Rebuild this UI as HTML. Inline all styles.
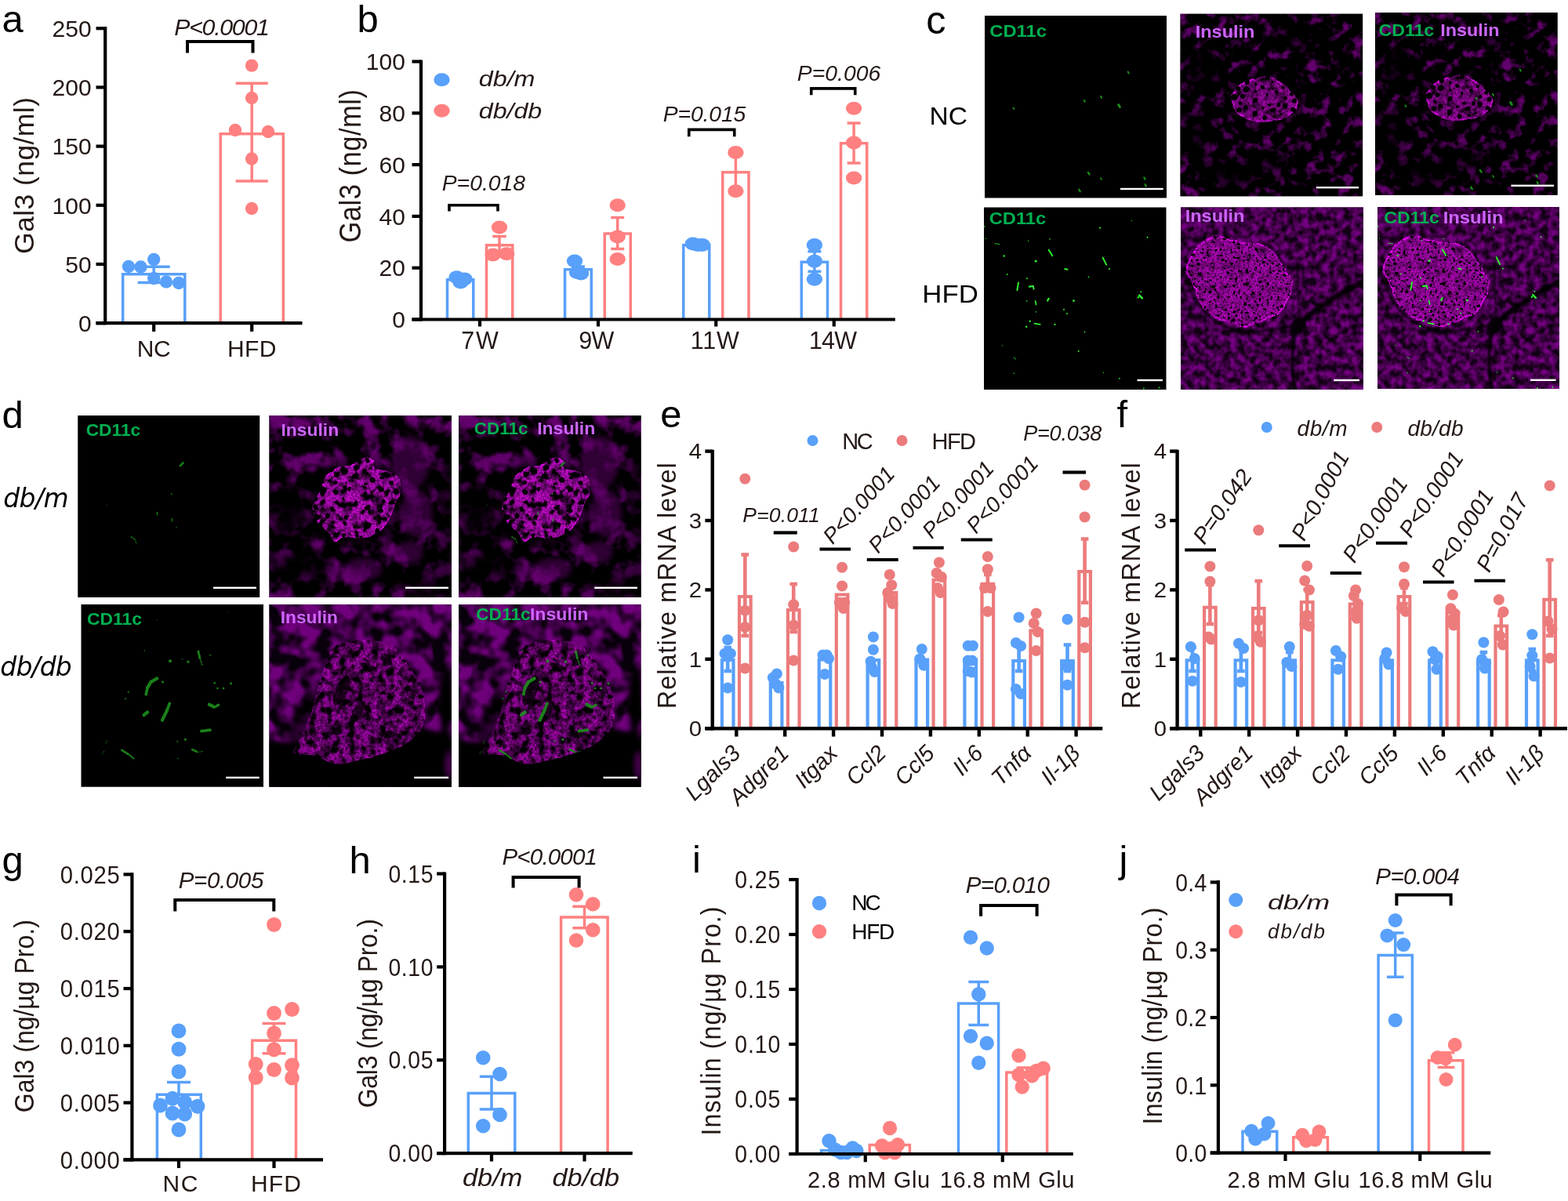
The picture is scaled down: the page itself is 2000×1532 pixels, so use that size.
<!DOCTYPE html>
<html lang="en"><head><meta charset="utf-8"><title>Figure</title>
<style>
html,body{margin:0;padding:0;background:#fff;}
body{width:2000px;height:1532px;overflow:hidden;}
svg{display:block;}
text{white-space:pre;}
</style></head><body>
<svg xmlns="http://www.w3.org/2000/svg" width="2000" height="1532" viewBox="0 0 2000 1532">
<defs><filter id="tc2" x="0" y="0" width="1" height="1" color-interpolation-filters="sRGB"><feTurbulence type="fractalNoise" baseFrequency="0.068" numOctaves="3" seed="11" result="n"/><feColorMatrix in="n" type="matrix" values="4 0 0 0 -2.05  4 0 0 0 -2.05  4 0 0 0 -2.05  0 0 0 0 1" result="i"/><feTurbulence type="fractalNoise" baseFrequency="0.8" numOctaves="1" seed="18" result="g"/><feColorMatrix in="g" type="matrix" values="1 0 0 0 0.5  1 0 0 0 0.5  1 0 0 0 0.5  0 0 0 0 1" result="g2"/><feComposite in="i" in2="g2" operator="arithmetic" k1="1" k2="0" k3="0" k4="0" result="i2"/><feColorMatrix in="i2" type="matrix" values="0.4 0 0 0 0  0 0 0 0 0  0 0 0.44 0 0  0 0 0 0 1"/></filter><filter id="tc5" x="0" y="0" width="1" height="1" color-interpolation-filters="sRGB"><feTurbulence type="fractalNoise" baseFrequency="0.11" numOctaves="2" seed="23" result="n"/><feColorMatrix in="n" type="matrix" values="2.3 0 0 0 -0.68  2.3 0 0 0 -0.68  2.3 0 0 0 -0.68  0 0 0 0 1" result="i"/><feTurbulence type="fractalNoise" baseFrequency="0.8" numOctaves="1" seed="30" result="g"/><feColorMatrix in="g" type="matrix" values="0.8 0 0 0 0.6  0.8 0 0 0 0.6  0.8 0 0 0 0.6  0 0 0 0 1" result="g2"/><feComposite in="i" in2="g2" operator="arithmetic" k1="1" k2="0" k3="0" k4="0" result="i2"/><feColorMatrix in="i2" type="matrix" values="0.4 0 0 0 0.07  0 0 0 0 0  0 0 0.44 0 0.08  0 0 0 0 1"/></filter><filter id="td2" x="0" y="0" width="1" height="1" color-interpolation-filters="sRGB"><feTurbulence type="fractalNoise" baseFrequency="0.042" numOctaves="3" seed="5" result="n"/><feColorMatrix in="n" type="matrix" values="3.6 0 0 0 -1.6  3.6 0 0 0 -1.6  3.6 0 0 0 -1.6  0 0 0 0 1" result="i"/><feTurbulence type="fractalNoise" baseFrequency="0.8" numOctaves="1" seed="12" result="g"/><feColorMatrix in="g" type="matrix" values="1 0 0 0 0.5  1 0 0 0 0.5  1 0 0 0 0.5  0 0 0 0 1" result="g2"/><feComposite in="i" in2="g2" operator="arithmetic" k1="1" k2="0" k3="0" k4="0" result="i2"/><feColorMatrix in="i2" type="matrix" values="0.4 0 0 0 0  0 0 0 0 0  0 0 0.44 0 0  0 0 0 0 1"/></filter><filter id="td5" x="0" y="0" width="1" height="1" color-interpolation-filters="sRGB"><feTurbulence type="fractalNoise" baseFrequency="0.048" numOctaves="2" seed="41" result="n"/><feColorMatrix in="n" type="matrix" values="3.4 0 0 0 -1.2  3.4 0 0 0 -1.2  3.4 0 0 0 -1.2  0 0 0 0 1" result="i"/><feTurbulence type="fractalNoise" baseFrequency="0.8" numOctaves="1" seed="48" result="g"/><feColorMatrix in="g" type="matrix" values="0.8 0 0 0 0.6  0.8 0 0 0 0.6  0.8 0 0 0 0.6  0 0 0 0 1" result="g2"/><feComposite in="i" in2="g2" operator="arithmetic" k1="1" k2="0" k3="0" k4="0" result="i2"/><feColorMatrix in="i2" type="matrix" values="0.42 0 0 0 0.03  0 0 0 0 0  0 0 0.46 0 0.04  0 0 0 0 1"/></filter><filter id="ic2" x="-0.1" y="-0.1" width="1.2" height="1.2" color-interpolation-filters="sRGB"><feTurbulence type="fractalNoise" baseFrequency="0.09" numOctaves="2" seed="6" result="d"/><feDisplacementMap in="SourceGraphic" in2="d" scale="3" xChannelSelector="R" yChannelSelector="G" result="s"/><feTurbulence type="fractalNoise" baseFrequency="0.35" numOctaves="3" seed="3" result="n"/><feColorMatrix in="n" type="matrix" values="1.2 0 0 0 0.2  0.12 0 0 0 -0.03  1.272 0 0 0 0.212  0 0 0 0 1" result="m"/><feTurbulence type="fractalNoise" baseFrequency="0.08" numOctaves="2" seed="14" result="l"/><feColorMatrix in="l" type="matrix" values="0 1.5 0 0 0.175  0 1.5 0 0 0.175  0 1.5 0 0 0.175  0 0 0 0 1" result="l2"/><feComposite in="m" in2="l2" operator="arithmetic" k1="1" k2="0" k3="0" k4="0" result="m2"/><feTurbulence type="fractalNoise" baseFrequency="0.1" numOctaves="2" seed="26" result="q"/><feColorMatrix in="q" type="matrix" values="3 0 0 0 -0.5  3 0 0 0 -0.5  3 0 0 0 -0.5  0 0 0 0 1" result="q2"/><feComposite in="m2" in2="q2" operator="arithmetic" k1="1" k2="0" k3="0" k4="0" result="m3"/><feComposite in="s" in2="m3" operator="arithmetic" k1="1" k2="0" k3="0" k4="0" result="t"/><feComposite in="t" in2="s" operator="in"/></filter><filter id="ic5" x="-0.1" y="-0.1" width="1.2" height="1.2" color-interpolation-filters="sRGB"><feTurbulence type="fractalNoise" baseFrequency="0.09" numOctaves="2" seed="12" result="d"/><feDisplacementMap in="SourceGraphic" in2="d" scale="4" xChannelSelector="R" yChannelSelector="G" result="s"/><feTurbulence type="fractalNoise" baseFrequency="0.5" numOctaves="3" seed="9" result="n"/><feColorMatrix in="n" type="matrix" values="1.3 0 0 0 0.175  0.1 0 0 0 -0.025  1.378 0 0 0 0.186  0 0 0 0 1" result="m"/><feTurbulence type="fractalNoise" baseFrequency="0.1" numOctaves="2" seed="20" result="l"/><feColorMatrix in="l" type="matrix" values="0 1.1 0 0 0.375  0 1.1 0 0 0.375  0 1.1 0 0 0.375  0 0 0 0 1" result="l2"/><feComposite in="m" in2="l2" operator="arithmetic" k1="1" k2="0" k3="0" k4="0" result="m2"/><feTurbulence type="fractalNoise" baseFrequency="0.3" numOctaves="1" seed="32" result="q"/><feColorMatrix in="q" type="matrix" values="7 0 0 0 -2  7 0 0 0 -2  7 0 0 0 -2  0 0 0 0 1" result="q2"/><feComposite in="m2" in2="q2" operator="arithmetic" k1="1" k2="0" k3="0" k4="0" result="m3"/><feComposite in="s" in2="m3" operator="arithmetic" k1="1" k2="0" k3="0" k4="0" result="t"/><feComposite in="t" in2="s" operator="in"/></filter><filter id="id2" x="-0.1" y="-0.1" width="1.2" height="1.2" color-interpolation-filters="sRGB"><feTurbulence type="fractalNoise" baseFrequency="0.09" numOctaves="2" seed="16" result="d"/><feDisplacementMap in="SourceGraphic" in2="d" scale="4" xChannelSelector="R" yChannelSelector="G" result="s"/><feTurbulence type="fractalNoise" baseFrequency="0.4" numOctaves="3" seed="13" result="n"/><feColorMatrix in="n" type="matrix" values="1.5 0 0 0 0.125  0.16 0 0 0 -0.04  1.59 0 0 0 0.133  0 0 0 0 1" result="m"/><feTurbulence type="fractalNoise" baseFrequency="0.07" numOctaves="2" seed="24" result="l"/><feColorMatrix in="l" type="matrix" values="0 1.7 0 0 0.075  0 1.7 0 0 0.075  0 1.7 0 0 0.075  0 0 0 0 1" result="l2"/><feComposite in="m" in2="l2" operator="arithmetic" k1="1" k2="0" k3="0" k4="0" result="m2"/><feTurbulence type="fractalNoise" baseFrequency="0.11" numOctaves="2" seed="36" result="q"/><feColorMatrix in="q" type="matrix" values="4.5 0 0 0 -1.35  4.5 0 0 0 -1.35  4.5 0 0 0 -1.35  0 0 0 0 1" result="q2"/><feComposite in="m2" in2="q2" operator="arithmetic" k1="1" k2="0" k3="0" k4="0" result="m3"/><feComposite in="s" in2="m3" operator="arithmetic" k1="1" k2="0" k3="0" k4="0" result="t"/><feComposite in="t" in2="s" operator="in"/></filter><filter id="id5" x="-0.1" y="-0.1" width="1.2" height="1.2" color-interpolation-filters="sRGB"><feTurbulence type="fractalNoise" baseFrequency="0.09" numOctaves="2" seed="20" result="d"/><feDisplacementMap in="SourceGraphic" in2="d" scale="3" xChannelSelector="R" yChannelSelector="G" result="s"/><feTurbulence type="fractalNoise" baseFrequency="0.35" numOctaves="3" seed="17" result="n"/><feColorMatrix in="n" type="matrix" values="1.2 0 0 0 0.15  0.08 0 0 0 -0.02  1.272 0 0 0 0.159  0 0 0 0 1" result="m"/><feTurbulence type="fractalNoise" baseFrequency="0.06" numOctaves="2" seed="28" result="l"/><feColorMatrix in="l" type="matrix" values="0 1.5 0 0 0.175  0 1.5 0 0 0.175  0 1.5 0 0 0.175  0 0 0 0 1" result="l2"/><feComposite in="m" in2="l2" operator="arithmetic" k1="1" k2="0" k3="0" k4="0" result="m2"/><feTurbulence type="fractalNoise" baseFrequency="0.1" numOctaves="2" seed="40" result="q"/><feColorMatrix in="q" type="matrix" values="3.5 0 0 0 -1  3.5 0 0 0 -1  3.5 0 0 0 -1  0 0 0 0 1" result="q2"/><feComposite in="m2" in2="q2" operator="arithmetic" k1="1" k2="0" k3="0" k4="0" result="m3"/><feComposite in="s" in2="m3" operator="arithmetic" k1="1" k2="0" k3="0" k4="0" result="t"/><feComposite in="t" in2="s" operator="in"/></filter><filter id="bl2" x="-0.3" y="-0.3" width="1.6" height="1.6"><feGaussianBlur stdDeviation="1.8"/></filter><filter id="bl3" x="-0.3" y="-0.3" width="1.6" height="1.6"><feGaussianBlur stdDeviation="3"/></filter><filter id="bl6" x="-0.3" y="-0.3" width="1.6" height="1.6"><feGaussianBlur stdDeviation="6"/></filter><filter id="bl10" x="-0.5" y="-0.5" width="2" height="2"><feGaussianBlur stdDeviation="10"/></filter><filter id="bl1" x="-0.3" y="-0.3" width="1.6" height="1.6"><feGaussianBlur stdDeviation="0.6"/></filter><g id="ins_c2"><rect width="234" height="234" filter="url(#tc2)"/><g filter="url(#bl10)" fill="#000" opacity="0.75"><ellipse cx="28" cy="70" rx="26" ry="28"/><ellipse cx="22" cy="150" rx="22" ry="28"/><ellipse cx="60" cy="205" rx="38" ry="18"/><ellipse cx="150" cy="28" rx="40" ry="12"/><ellipse cx="120" cy="190" rx="22" ry="12"/></g><g filter="url(#bl6)" fill="#000" opacity="0.55"><ellipse cx="108" cy="110" rx="50" ry="36"/></g><g filter="url(#ic2)"><path d="M66,106 C66.5,100.8 70.5,96.5 74,93 C77.5,89.5 82.7,86.8 87,85 C91.3,83.2 95.8,82.8 100,82 C104.2,81.2 107.3,79 112,80 C116.7,81 122.7,84.2 128,88 C133.3,91.8 140.5,98.8 144,103 C147.5,107.2 149.2,109.2 149,113 C148.8,116.8 146.5,122.5 143,126 C139.5,129.5 134.5,132.2 128,134 C121.5,135.8 110.8,137 104,137 C97.2,137 92.5,136.2 87,134 C81.5,131.8 74.5,128.7 71,124 C67.5,119.3 65.5,111.2 66,106Z" fill="#a0a0a0" stroke="#ffffff" stroke-width="2.2"/><g fill="#000"><circle cx="117.7" cy="122.3" r="3.3"/><circle cx="144.2" cy="122.2" r="3.5"/><circle cx="68.4" cy="106.5" r="3.5"/><circle cx="119.9" cy="131.4" r="2"/><circle cx="104.9" cy="94.1" r="2.8"/><circle cx="84" cy="95.9" r="3.5"/><circle cx="117.2" cy="87.2" r="1.8"/><circle cx="145.8" cy="110.7" r="3"/><circle cx="96" cy="89.5" r="2"/><circle cx="122.3" cy="99.3" r="2.3"/><circle cx="133.9" cy="107.4" r="2.4"/><circle cx="105.9" cy="120.2" r="1.9"/><circle cx="128.2" cy="128.2" r="1.8"/><circle cx="95.4" cy="109.9" r="3.2"/><circle cx="75" cy="122.7" r="3.3"/><circle cx="110.3" cy="103.1" r="2.2"/><circle cx="73.4" cy="95.5" r="3.2"/><circle cx="133.8" cy="116.9" r="3.3"/><circle cx="95.1" cy="128" r="3.4"/><circle cx="79.3" cy="105.1" r="3"/><circle cx="84.2" cy="119.1" r="2.9"/><circle cx="113" cy="115.1" r="2"/><circle cx="130.9" cy="94" r="2.3"/><circle cx="111.3" cy="80.8" r="3.2"/><circle cx="124.8" cy="116" r="2.7"/><circle cx="141.7" cy="102" r="2.5"/><circle cx="108" cy="131.9" r="2.8"/><circle cx="76.4" cy="113.9" r="2.2"/><circle cx="84.5" cy="86.6" r="3.6"/><circle cx="96.1" cy="98.8" r="1.8"/></g></g></g><g id="ins_c5"><rect width="234" height="234" filter="url(#tc5)"/><g filter="url(#bl2)" opacity="0.9"><path d="M236,93 C205,108 175,128 150,148" fill="none" stroke="#000" stroke-width="7" stroke-linecap="round"/><path d="M150,148 C142,165 140,195 146,236" fill="none" stroke="#000" stroke-width="4.5" stroke-linecap="round"/><ellipse cx="149" cy="152" rx="9" ry="13" transform="rotate(30 149 152)" fill="#000"/><path d="M150,148 C153,120 147,95 150,70" fill="none" stroke="#000" stroke-width="3" opacity="0.7"/><path d="M4,75 C10,115 32,150 78,158 C112,160 135,153 150,148" fill="none" stroke="#000" stroke-width="3.5" opacity="0.85"/><path d="M236,150 C215,150 200,160 185,175" fill="none" stroke="#000" stroke-width="3" opacity="0.6"/></g><g filter="url(#ic5)"><path d="M7.8,79.6 C7.5,73.6 11.1,67.4 14.4,61.7 C17.7,56 22.5,49.5 27.4,45.4 C32.3,41.3 37.7,37.8 43.7,37.2 C49.7,36.7 57,40.7 63.3,42.1 C69.5,43.5 75,44.6 81.2,45.4 C87.5,46.2 94.5,45.1 100.8,47 C107.1,48.9 114.2,52.4 118.8,56.8 C123.4,61.1 125,67.7 128.5,73.1 C132,78.5 137.8,84 140,89.4 C142.2,94.8 142.7,100.3 141.6,105.7 C140.5,111.1 136.1,117.1 133.4,122 C130.7,126.9 129.1,131.7 125.3,135 C121.5,138.3 115.5,139.4 110.6,141.6 C105.7,143.8 100.8,146.5 95.9,148.1 C91,149.7 86.6,151.7 81.2,151.4 C75.8,151.1 69,148.1 63.3,146.5 C57.6,144.9 51.9,144 47,141.6 C42.1,139.2 38,136.2 33.9,131.8 C29.8,127.5 25.5,121.2 22.5,115.5 C19.5,109.8 18.4,103.6 16,97.6 C13.6,91.6 8.1,85.6 7.8,79.6Z" fill="#b4b4b4" stroke="#ffffff" stroke-width="2.2"/><g fill="#000"><circle cx="51.1" cy="54.4" r="1.8"/><circle cx="17.5" cy="98.4" r="1.4"/><circle cx="12.8" cy="86.7" r="1.1"/><circle cx="37.7" cy="108.9" r="2.1"/><circle cx="85" cy="82.5" r="2.1"/><circle cx="23.6" cy="72.4" r="2"/><circle cx="15.8" cy="60.7" r="1.8"/><circle cx="65" cy="73.1" r="1.7"/><circle cx="114.1" cy="117" r="1.3"/><circle cx="84.7" cy="97.2" r="2"/><circle cx="105.4" cy="70.1" r="2.1"/><circle cx="23.6" cy="84.9" r="1.9"/><circle cx="28.1" cy="93" r="1.1"/><circle cx="97.2" cy="124.5" r="1.7"/><circle cx="124.9" cy="73" r="1.8"/><circle cx="68.8" cy="133.1" r="2.1"/><circle cx="71.2" cy="113" r="1.1"/><circle cx="101.7" cy="111.1" r="2.2"/><circle cx="59.4" cy="113.6" r="1.1"/><circle cx="69.6" cy="56.4" r="1.2"/><circle cx="60.1" cy="136.7" r="1.1"/><circle cx="67.9" cy="99.9" r="2"/><circle cx="117.4" cy="135.9" r="1.4"/><circle cx="28" cy="57.3" r="1.3"/><circle cx="39" cy="92.6" r="1.7"/><circle cx="43" cy="37.7" r="1.5"/><circle cx="57.2" cy="101.9" r="2.1"/><circle cx="100.2" cy="96.1" r="1.7"/><circle cx="128.2" cy="126.3" r="2"/><circle cx="114.6" cy="82" r="1.5"/><circle cx="21.7" cy="109.6" r="1.1"/><circle cx="124.8" cy="107.3" r="1.2"/><circle cx="41.6" cy="76.9" r="1.4"/><circle cx="72.5" cy="47" r="1.2"/><circle cx="53.6" cy="67.4" r="2"/><circle cx="135" cy="97.5" r="1.2"/><circle cx="78.5" cy="148.9" r="2"/><circle cx="111.1" cy="98" r="1.9"/><circle cx="55.4" cy="40.5" r="1.1"/><circle cx="67.6" cy="144.2" r="2.1"/><circle cx="37.3" cy="63.1" r="1.3"/><circle cx="96.2" cy="141.1" r="1.9"/><circle cx="31.7" cy="127.3" r="1.4"/><circle cx="60.8" cy="83" r="2.1"/><circle cx="104.8" cy="56.6" r="1.2"/><circle cx="95.7" cy="77.2" r="1.7"/><circle cx="137.7" cy="111.4" r="1.6"/><circle cx="132.7" cy="86.7" r="2"/><circle cx="118.3" cy="61.3" r="1.3"/><circle cx="86.3" cy="66.8" r="1.5"/><circle cx="85.9" cy="140.5" r="1.5"/><circle cx="44.9" cy="125.4" r="1.6"/><circle cx="83" cy="124" r="2.1"/><circle cx="42.5" cy="101.1" r="2.1"/><circle cx="96.1" cy="53.5" r="2"/><circle cx="123.2" cy="89" r="1.4"/><circle cx="106" cy="130" r="1.2"/><circle cx="91.8" cy="108.7" r="1.8"/><circle cx="73.9" cy="80.9" r="1.6"/><circle cx="70" cy="90.5" r="1.2"/></g></g></g><g id="ins_d2"><rect width="234" height="234" filter="url(#td2)"/><g filter="url(#bl10)" fill="#000" opacity="0.8"><ellipse cx="229" cy="130" rx="9" ry="110"/><ellipse cx="22" cy="120" rx="22" ry="36"/><ellipse cx="40" cy="192" rx="38" ry="18"/><ellipse cx="205" cy="218" rx="36" ry="14"/></g><g filter="url(#bl6)" fill="#000" opacity="0.5"><ellipse cx="111" cy="110" rx="62" ry="58"/></g><g filter="url(#bl3)" fill="#56005e" opacity="0.55"><ellipse cx="180" cy="60" rx="24" ry="34"/><ellipse cx="188" cy="125" rx="20" ry="30"/><ellipse cx="120" cy="196" rx="24" ry="14"/><ellipse cx="178" cy="175" rx="18" ry="14"/></g><g filter="url(#id2)"><path d="M56,115 C57.4,109.8 63,101.4 65.7,95.4 C68.4,89.4 68.5,84 72.3,79.1 C76.1,74.2 83.2,68.5 88.6,66.1 C94,63.6 99.5,66.3 104.9,64.4 C110.3,62.5 116.9,56 121.2,54.6 C125.5,53.2 128.8,54.1 131,56.3 C133.2,58.5 130.5,65 134.3,67.7 C138.1,70.4 148.6,70.1 153.8,72.6 C159,75 163.1,78.3 165.3,82.4 C167.5,86.5 167.7,92.2 166.9,97.1 C166.1,102 162.6,106.3 160.4,111.7 C158.2,117.1 156.8,124 153.8,129.7 C150.8,135.4 147,141.9 142.4,146 C137.8,150.1 131,152.6 126.1,154.2 C121.2,155.8 118.3,155.8 113.1,155.8 C107.9,155.8 100,153.4 95.1,154.2 C90.2,155 87,161.8 83.7,160.7 C80.4,159.6 78.8,151.4 75.5,147.6 C72.2,143.8 67.1,141.3 64.1,137.8 C61.1,134.3 59,130.2 57.6,126.4 C56.2,122.6 54.6,120.2 56,115Z" fill="#c0c0c0" stroke="#ffffff" stroke-width="1.5"/><g fill="#000"><circle cx="74.3" cy="127.8" r="3"/><circle cx="109.1" cy="77.5" r="3.3"/><circle cx="145.6" cy="109" r="2.7"/><circle cx="97.1" cy="116.7" r="1.9"/><circle cx="144" cy="79.2" r="2.2"/><circle cx="137.9" cy="147.4" r="2.9"/><circle cx="111.2" cy="66.9" r="3.6"/><circle cx="96.9" cy="71" r="3.3"/><circle cx="94" cy="106" r="2.1"/><circle cx="82" cy="137.4" r="2.1"/><circle cx="139.7" cy="135.5" r="2.9"/><circle cx="108.8" cy="142.3" r="2.1"/><circle cx="101.4" cy="93.3" r="2.6"/><circle cx="110.5" cy="113" r="3.2"/><circle cx="80.6" cy="119.2" r="2.8"/><circle cx="125" cy="73.8" r="2.1"/><circle cx="94.6" cy="153" r="2.4"/><circle cx="122.2" cy="87.1" r="2"/><circle cx="142.2" cy="94.4" r="3"/><circle cx="162.3" cy="97.8" r="3.6"/><circle cx="84.6" cy="85.4" r="2.5"/><circle cx="122.7" cy="99.8" r="2.9"/><circle cx="58.6" cy="117.6" r="3"/><circle cx="84.5" cy="97.6" r="3.6"/><circle cx="97.9" cy="129.9" r="2.8"/><circle cx="61.1" cy="130" r="3.4"/><circle cx="155.9" cy="85.9" r="2.7"/><circle cx="116.9" cy="155.2" r="1.9"/><circle cx="124.9" cy="56.7" r="3"/><circle cx="142.4" cy="121.1" r="3.2"/><circle cx="83.2" cy="151.9" r="2.5"/><circle cx="124.2" cy="142.1" r="3.6"/><circle cx="131.6" cy="82.3" r="3.6"/><circle cx="86.2" cy="74.6" r="3.6"/><circle cx="60.1" cy="107.1" r="3"/><circle cx="156.1" cy="111.2" r="3.5"/><circle cx="65.2" cy="97.6" r="2.1"/><circle cx="125.7" cy="118.1" r="3.1"/></g></g></g><g id="ins_d5"><rect width="234" height="234" filter="url(#td5)"/><g filter="url(#bl3)" fill="#000" opacity="1"><path d="M-10,172 L45,178 L90,150 L190,150 L206,162 L240,160 L240,245 L-10,245Z"/><ellipse cx="226" cy="125" rx="9" ry="45"/></g><g filter="url(#bl6)" fill="#000" opacity="0.6"><ellipse cx="42" cy="150" rx="12" ry="45" transform="rotate(20 42 150)"/></g><g filter="url(#id5)"><path d="M83.7,53 C90,50 103,46.8 114.7,46.5 C126.4,46.2 143.7,46.5 153.7,51.4 C163.7,56.3 168.3,66.8 174.9,75.8 C181.5,84.8 189.2,93.7 193,105.4 C196.8,117.1 199.7,135.2 198,146 C196.3,156.8 190.4,163.7 183,170.5 C175.6,177.3 165.4,182.3 153.7,187 C142,191.7 124.4,195.7 113,198.4 C101.6,201.1 94.9,204.4 85.4,203.3 C75.9,202.2 64.8,194.1 55.8,191.9 C46.8,189.7 33.3,195.2 31.4,190.3 C29.5,185.4 40.3,172.5 44.4,162.4 C48.5,152.3 51.9,142.1 55.8,129.8 C59.6,117.6 63.9,99.8 67.5,88.9 C71.1,78 74.5,70.4 77.2,64.4 C79.9,58.4 77.5,56 83.7,53Z" fill="#b0b0b0" stroke="#e8e8e8" stroke-width="1.0"/><g fill="#2c2c2c"><ellipse cx="92" cy="110" rx="8" ry="20" transform="rotate(25 92 110)"/><ellipse cx="112" cy="138" rx="6" ry="17" transform="rotate(30 112 138)"/><ellipse cx="125" cy="80" rx="10" ry="5" transform="rotate(20 125 80)"/><ellipse cx="152" cy="166" rx="9" ry="5"/><ellipse cx="180" cy="112" rx="5" ry="10" transform="rotate(-20 180 112)"/><ellipse cx="85" cy="162" rx="8" ry="5"/><ellipse cx="150" cy="70" rx="5" ry="9" transform="rotate(-30 150 70)"/></g><g fill="#585858"><circle cx="126.4" cy="145.6" r="3.1"/><circle cx="77.6" cy="148.7" r="3.2"/><circle cx="140" cy="143.3" r="2.5"/><circle cx="192.4" cy="129.3" r="2.4"/><circle cx="188.6" cy="146.2" r="2.2"/><circle cx="82.9" cy="124.3" r="1.7"/><circle cx="132.6" cy="161.9" r="2.4"/><circle cx="124" cy="153.3" r="1.8"/><circle cx="78.8" cy="80" r="3.2"/><circle cx="156.3" cy="65.8" r="2.2"/><circle cx="71.8" cy="89.3" r="1.6"/><circle cx="118.8" cy="94.2" r="2.3"/><circle cx="36.9" cy="183.3" r="2.9"/><circle cx="124.6" cy="65.9" r="1.9"/><circle cx="140.3" cy="118.3" r="2.5"/><circle cx="91.1" cy="131" r="3"/><circle cx="82.7" cy="57.5" r="2.5"/><circle cx="94.6" cy="168.9" r="1.8"/><circle cx="121.7" cy="116.1" r="2.2"/><circle cx="179.5" cy="156.6" r="1.9"/><circle cx="113.9" cy="142.5" r="1.7"/><circle cx="152.9" cy="119" r="2.4"/><circle cx="111.7" cy="49.7" r="2.3"/><circle cx="165.2" cy="97.5" r="1.8"/><circle cx="62.3" cy="158.1" r="2.7"/><circle cx="169.9" cy="114.5" r="3"/><circle cx="156.4" cy="138.5" r="2.5"/><circle cx="173.1" cy="144.5" r="2.9"/><circle cx="76.4" cy="138" r="2.6"/><circle cx="187.9" cy="111.3" r="3.2"/><circle cx="167" cy="68.2" r="1.7"/><circle cx="163.3" cy="82.3" r="1.8"/><circle cx="154.8" cy="182.5" r="3.3"/><circle cx="85.8" cy="66.6" r="2.2"/><circle cx="106.3" cy="78.2" r="1.8"/><circle cx="53.1" cy="171.9" r="2.6"/><circle cx="91.6" cy="86.1" r="2.2"/><circle cx="106.2" cy="106.6" r="2.1"/><circle cx="152.2" cy="81.7" r="1.7"/><circle cx="71" cy="171.1" r="2.5"/><circle cx="162.9" cy="107" r="3.2"/><circle cx="178.5" cy="113.9" r="3"/><circle cx="78.7" cy="161" r="3.2"/><circle cx="135.8" cy="83.3" r="2.8"/><circle cx="95.3" cy="121.2" r="1.9"/><circle cx="102.1" cy="165.4" r="1.8"/><circle cx="181.2" cy="129.8" r="2.3"/><circle cx="129.2" cy="170.4" r="3.4"/><circle cx="113.6" cy="125.9" r="2.2"/><circle cx="121.4" cy="131.7" r="2.1"/><circle cx="107.7" cy="190.1" r="2"/><circle cx="174.4" cy="94.1" r="3.1"/><circle cx="106.4" cy="175.6" r="2.1"/><circle cx="131.7" cy="183.1" r="3.3"/><circle cx="86.1" cy="148.4" r="2.2"/><circle cx="84.1" cy="188.1" r="2.4"/><circle cx="116.5" cy="102.3" r="2.1"/><circle cx="154.4" cy="151.6" r="2.1"/><circle cx="103.3" cy="98.8" r="1.9"/><circle cx="81.6" cy="93" r="2.2"/><circle cx="129.5" cy="95.4" r="2.7"/><circle cx="59" cy="144.6" r="2.1"/><circle cx="58.9" cy="130" r="2"/><circle cx="98.1" cy="145.3" r="2.8"/><circle cx="154.7" cy="106.1" r="3"/><circle cx="146" cy="102.9" r="2.3"/><circle cx="64.8" cy="101.5" r="2.8"/><circle cx="196.4" cy="148.5" r="2.3"/><circle cx="161.9" cy="158.6" r="3.1"/><circle cx="92.2" cy="185.4" r="2"/><circle cx="113.5" cy="59.1" r="2.3"/><circle cx="166.4" cy="168.5" r="2.9"/><circle cx="148.4" cy="174.8" r="3.2"/><circle cx="88.1" cy="105.8" r="2.7"/><circle cx="141.3" cy="164.9" r="3.2"/><circle cx="58.5" cy="180.8" r="3.1"/><circle cx="62.4" cy="113.4" r="3.2"/><circle cx="107.1" cy="118.5" r="3.4"/><circle cx="134.4" cy="68.1" r="3.1"/><circle cx="119.3" cy="187.3" r="3.2"/><circle cx="42.1" cy="167.7" r="2.4"/><circle cx="160.9" cy="115.9" r="2.4"/><circle cx="143.9" cy="57.6" r="2.4"/><circle cx="181.7" cy="104.7" r="3.3"/><circle cx="125" cy="103.3" r="2.8"/><circle cx="77.7" cy="100.6" r="3.3"/><circle cx="53.4" cy="162.3" r="3"/><circle cx="94.8" cy="51.5" r="3"/><circle cx="190.6" cy="101.8" r="3"/><circle cx="100.4" cy="84.8" r="2.7"/><circle cx="104" cy="69.9" r="3.1"/><circle cx="173.9" cy="164.2" r="1.7"/><circle cx="191.4" cy="156.8" r="2.9"/><circle cx="138.6" cy="109.7" r="1.9"/><circle cx="74.2" cy="191.4" r="2.8"/><circle cx="139.5" cy="187.2" r="1.9"/><circle cx="61.9" cy="171.9" r="2.8"/><circle cx="166.7" cy="134.9" r="2.6"/><circle cx="75.7" cy="182.2" r="2"/><circle cx="181.1" cy="140" r="1.7"/><circle cx="127.6" cy="77.7" r="2.6"/><circle cx="127.5" cy="125.9" r="2.2"/><circle cx="75.6" cy="70.5" r="2.9"/><circle cx="107.1" cy="137.5" r="2.5"/><circle cx="68" cy="126.2" r="1.9"/><circle cx="96.9" cy="110.6" r="1.8"/><circle cx="144.8" cy="66.1" r="3.1"/><circle cx="138.9" cy="130.7" r="3"/><circle cx="80" cy="201.1" r="2.7"/><circle cx="76.1" cy="114.4" r="2.4"/><circle cx="105.5" cy="150.3" r="2.5"/><circle cx="147" cy="148.6" r="2.1"/><circle cx="89.8" cy="95.2" r="2.1"/><circle cx="113.2" cy="168.9" r="3.1"/><circle cx="128" cy="192.2" r="2.1"/></g></g><g filter="url(#bl3)" fill="#5a0062" opacity="0.8"><ellipse cx="229" cy="205" rx="5" ry="18"/><ellipse cx="232" cy="160" rx="4" ry="10"/></g></g><g id="grn_c1"><g stroke="#1fa51f" stroke-linecap="round" fill="none" opacity="0.85" filter="url(#bl1)"><path d="M182.7,71.5 L183.8,73.5" stroke-width="2"/><path d="M147.9,102.8 L149.1,104.8" stroke-width="2"/><path d="M126.7,107.8 L127.8,109.8" stroke-width="2"/><path d="M170.6,113.5 L172.4,116.5" stroke-width="3"/><path d="M36.5,117.3 L37.5,119.2" stroke-width="1.8"/><path d="M132,200.1 L133.5,202.4" stroke-width="2.4"/><path d="M148,207.1 L149,208.9" stroke-width="1.8"/><path d="M203.3,206.4 L204.7,208.6" stroke-width="2.2"/><path d="M204.6,215.2 L205.9,217.3" stroke-width="2.2"/><path d="M120.3,221.8 L121.7,224.2" stroke-width="2.4"/></g></g><g id="grn_c4"><g stroke="#2df22d" stroke-linecap="round" fill="none" opacity="1.0" filter="url(#bl1)"><path d="M82.7,54.3 L87.3,61.7" stroke-width="2"/><path d="M151.7,64.1 L156.1,73.1" stroke-width="2"/><path d="M159.9,78.5 L159.9,78.5" stroke-width="2.2"/><path d="M66.1,68.5 L66.1,68.5" stroke-width="3.2"/><path d="M103.3,78.5 L106.5,79.3" stroke-width="2"/><path d="M25.8,62 L25.8,62" stroke-width="2.4"/><path d="M148.1,26.1 L148.1,26.1" stroke-width="2.2"/><path d="M208.5,38.3 L208.5,38.3" stroke-width="2"/><path d="M84,40.5 L84,40.5" stroke-width="1.6"/><path d="M13.9,46.2 L19.6,47" stroke-width="0.8"/><path d="M44,95.9 L42.4,105.7" stroke-width="2"/><path d="M57.9,101.1 L62.8,100.5" stroke-width="2.2"/><path d="M62.8,100.5 L63.6,104.4" stroke-width="1.8"/><path d="M55,90.7 L55,90.7" stroke-width="2"/><path d="M29.7,85.5 L29.7,85.5" stroke-width="1.8"/><path d="M81.1,119.1 L82.7,116.3" stroke-width="2.2"/><path d="M114.5,119.2 L114.5,119.2" stroke-width="2.8"/><path d="M65.6,119.6 L66.6,124" stroke-width="1.7"/><path d="M133.4,88.9 L133.5,88.9" stroke-width="1.6"/><path d="M102,130.2 L102,130.2" stroke-width="2"/><path d="M106,135.4 L106,135.4" stroke-width="2"/><path d="M58.7,145.2 L58.7,145.2" stroke-width="2.4"/><path d="M64.4,148.1 L71.8,149.4" stroke-width="1.6"/><path d="M90.5,149.4 L90.5,149.4" stroke-width="2.2"/><path d="M54.3,152.2 L54.3,152.2" stroke-width="2.4"/><path d="M198.2,112.2 L201.8,115.8" stroke-width="2.6"/><path d="M200.3,107.7 L200.3,107.7" stroke-width="2"/><path d="M196.9,114.7 L196.9,114.7" stroke-width="2.4"/><path d="M128.5,158.9 L128.6,158.9" stroke-width="1.6"/><path d="M120.7,183.5 L120.7,183.5" stroke-width="2"/><path d="M38.3,191.4 L40.5,193.8" stroke-width="0.9"/><path d="M38.3,211.7 L38.3,211.7" stroke-width="1.4"/><path d="M152.5,210.9 L152.5,210.9" stroke-width="1.4"/><path d="M172.9,218.3 L172.9,218.3" stroke-width="1.8"/><path d="M203.9,231 L203.9,231" stroke-width="1.8"/><path d="M223.5,230 L223.5,230" stroke-width="1.8"/><path d="M23.7,176.3 L23.7,176.3" stroke-width="1.2"/><path d="M188.4,17.1 L188.4,17.1" stroke-width="1.4"/><path d="M0.8,24.6 L0.8,24.6" stroke-width="1.6"/><path d="M2.4,40 L2.5,40" stroke-width="1.2"/><path d="M54.6,119.6 L54.7,119.6" stroke-width="1.6"/><path d="M66.4,133.4 L66.4,133.4" stroke-width="1.4"/><path d="M56.6,42.9 L56.6,42.9" stroke-width="1.4"/></g></g><g id="grn_d1"><g stroke="#1f9a1f" stroke-linecap="round" fill="none" opacity="0.8" filter="url(#bl1)" stroke-dasharray="0.1 2.2"><path d="M134.2,60.5 L129.8,65" stroke-width="3"/><path d="M119.5,100 L119.5,100" stroke-width="1.8"/><path d="M101.2,124 L101.8,128.5" stroke-width="2"/><path d="M120.2,132 L120.2,136" stroke-width="2"/><path d="M125.8,142.5 L125.8,142.5" stroke-width="1.4"/><path d="M68.2,155 L72.8,158" stroke-width="1.8"/><path d="M72.8,158 L75.2,164" stroke-width="1.5"/><path d="M36.8,114.5 L36.8,114.5" stroke-width="1.2"/></g></g><g id="grn_d4"><g stroke="#1f8f1f" stroke-linecap="round" fill="none" opacity="0.9" filter="url(#bl1)" stroke-dasharray="0.1 2.6"><path d="M149.5,60.2 L151.5,69" stroke-width="3.2"/><path d="M151.5,69 L154.5,77" stroke-width="2"/><path d="M113.5,72.2 L113.5,72.2" stroke-width="4"/><path d="M136.5,73.2 L136.5,73.2" stroke-width="3.2"/><path d="M129,69.8 L129,69.8" stroke-width="1.6"/><path d="M164.8,64.8 L164.8,64.8" stroke-width="2"/><path d="M80.8,59 L80.8,59" stroke-width="1.6"/><path d="M96.5,94.5 L89,99" stroke-width="4.5"/><path d="M89,99 L84.5,106.5" stroke-width="4.5"/><path d="M84.5,106.5 L82.8,114.5" stroke-width="4"/><path d="M104,99 L104,99" stroke-width="3"/><path d="M112.8,126.5 L109.5,135.2" stroke-width="4"/><path d="M109.5,135.2 L102.8,149" stroke-width="4.5"/><path d="M80.2,141 L85.2,137" stroke-width="4.5"/><path d="M163.5,127.8 L170.2,131" stroke-width="4.5"/><path d="M170.2,131 L176,127.8" stroke-width="3.5"/><path d="M170.2,100.2 L170.3,100.2" stroke-width="2.6"/><path d="M174,107 L174,107" stroke-width="2.6"/><path d="M181.5,107 L181.5,107" stroke-width="2.6"/><path d="M191,100.8 L191,100.8" stroke-width="3"/><path d="M153.5,161.5 L165.2,160.2" stroke-width="4"/><path d="M132.8,172.2 L132.8,172.2" stroke-width="3"/><path d="M122.8,174.8 L122.8,174.8" stroke-width="2"/><path d="M142,185.2 L149,188.5" stroke-width="3"/><path d="M149,188.5 L156.5,187" stroke-width="1.5"/><path d="M52,186 L60.2,191" stroke-width="3"/><path d="M60.2,191 L67,196.5" stroke-width="2.5"/><path d="M32.8,174 L31.5,177.8" stroke-width="1.3"/><path d="M29,187.8 L26.5,191" stroke-width="1.3"/><path d="M60.2,111.5 L60.3,111.5" stroke-width="2"/><path d="M56.5,120.2 L56.5,120.2" stroke-width="2"/><path d="M123.5,196.5 L123.5,196.5" stroke-width="1.6"/><path d="M187.8,10.2 L187.8,10.2" stroke-width="1"/><path d="M96.5,19.5 L96.5,19.5" stroke-width="1"/></g></g></defs>
<rect width="2000" height="1532" fill="#fff"/>
<g fill="#231815" font-family="'Liberation Sans', Arial, sans-serif">
<g id="pa">
<text x="2.5" y="40.5" font-size="49" fill="#000000">a</text>
<path d="M156.7,412.2 V349.7 H235.8 V412.2" fill="none" stroke="#58A0FA" stroke-width="3.5" stroke-linejoin="miter"/>
<path d="M281.2,412.2 V170.7 H361.3 V412.2" fill="none" stroke="#FF8080" stroke-width="3.5" stroke-linejoin="miter"/>
<line x1="196.2" y1="340.3" x2="196.2" y2="360.5" stroke="#58A0FA" stroke-width="3.5"/>
<line x1="175.7" y1="340.3" x2="216.7" y2="340.3" stroke="#58A0FA" stroke-width="3.5"/>
<line x1="175.7" y1="360.5" x2="216.7" y2="360.5" stroke="#58A0FA" stroke-width="3.5"/>
<line x1="321.2" y1="106.2" x2="321.2" y2="231" stroke="#FF8080" stroke-width="3.5"/>
<line x1="300.7" y1="106.2" x2="341.7" y2="106.2" stroke="#FF8080" stroke-width="3.5"/>
<line x1="300.7" y1="231" x2="341.7" y2="231" stroke="#FF8080" stroke-width="3.5"/>
<circle cx="164" cy="340" r="8.2" fill="#58A0FA"/>
<circle cx="179.5" cy="340.5" r="8.2" fill="#58A0FA"/>
<circle cx="196.2" cy="331" r="8.2" fill="#58A0FA"/>
<circle cx="196.2" cy="355" r="8.2" fill="#58A0FA"/>
<circle cx="212" cy="359.5" r="8.2" fill="#58A0FA"/>
<circle cx="228" cy="361" r="8.2" fill="#58A0FA"/>
<circle cx="321.1" cy="83.6" r="8.2" fill="#FF8080"/>
<circle cx="321.1" cy="125" r="8.2" fill="#FF8080"/>
<circle cx="300" cy="166" r="8.2" fill="#FF8080"/>
<circle cx="342" cy="168" r="8.2" fill="#FF8080"/>
<circle cx="321.1" cy="202.5" r="8.2" fill="#FF8080"/>
<circle cx="321.1" cy="266" r="8.2" fill="#FF8080"/>
<line x1="134.2" y1="34.1" x2="134.2" y2="414.3" stroke="#000000" stroke-width="4.2"/>
<line x1="122.5" y1="412.2" x2="385.5" y2="412.2" stroke="#000000" stroke-width="4.2"/>
<line x1="122.5" y1="412.2" x2="134.2" y2="412.2" stroke="#000000" stroke-width="4.2"/>
<text x="116.6" y="422.94" font-size="30" text-anchor="end">0</text>
<line x1="122.5" y1="337" x2="134.2" y2="337" stroke="#000000" stroke-width="4.2"/>
<text x="116.6" y="347.74" font-size="30" text-anchor="end">50</text>
<line x1="122.5" y1="261.8" x2="134.2" y2="261.8" stroke="#000000" stroke-width="4.2"/>
<text x="116.6" y="272.54" font-size="30" text-anchor="end">100</text>
<line x1="122.5" y1="186.6" x2="134.2" y2="186.6" stroke="#000000" stroke-width="4.2"/>
<text x="116.6" y="197.34" font-size="30" text-anchor="end">150</text>
<line x1="122.5" y1="111.4" x2="134.2" y2="111.4" stroke="#000000" stroke-width="4.2"/>
<text x="116.6" y="122.14" font-size="30" text-anchor="end">200</text>
<line x1="122.5" y1="36.2" x2="134.2" y2="36.2" stroke="#000000" stroke-width="4.2"/>
<text x="116.6" y="46.94" font-size="30" text-anchor="end">250</text>
<line x1="196.2" y1="412.2" x2="196.2" y2="423" stroke="#000000" stroke-width="4.2"/>
<line x1="321.2" y1="412.2" x2="321.2" y2="423" stroke="#000000" stroke-width="4.2"/>
<text x="174.7" y="455" font-size="30" textLength="43">NC</text>
<text x="289.95" y="455" font-size="30" textLength="62.5">HFD</text>
<text x="-100" y="0" font-size="35.5" textLength="200" transform="translate(42.6,224) rotate(-90)">Gal3 (ng/ml)</text>
<text x="222.3" y="45" font-size="30.3" font-style="italic" textLength="121.5">P&lt;0.0001</text>
<path d="M239,67.5 V53 H322.5 V67.5" fill="none" stroke="#000000" stroke-width="4" stroke-linejoin="miter"/>
</g>
<g id="pb">
<text x="455.5" y="41" font-size="49" fill="#000000">b</text>
<path d="M570.5,407.5 V356.8 H603.75 V407.5" fill="none" stroke="#58A0FA" stroke-width="3.5" stroke-linejoin="miter"/>
<path d="M620.5,407.5 V312.75 H653.75 V407.5" fill="none" stroke="#FF8080" stroke-width="3.5" stroke-linejoin="miter"/>
<path d="M720.5,407.5 V343.75 H754.25 V407.5" fill="none" stroke="#58A0FA" stroke-width="3.5" stroke-linejoin="miter"/>
<path d="M771.25,407.5 V298 H804.25 V407.5" fill="none" stroke="#FF8080" stroke-width="3.5" stroke-linejoin="miter"/>
<path d="M871.75,407.5 V312.75 H904.75 V407.5" fill="none" stroke="#58A0FA" stroke-width="3.5" stroke-linejoin="miter"/>
<path d="M921.75,407.5 V219.75 H955 V407.5" fill="none" stroke="#FF8080" stroke-width="3.5" stroke-linejoin="miter"/>
<path d="M1022.25,407.5 V334.25 H1055.5 V407.5" fill="none" stroke="#58A0FA" stroke-width="3.5" stroke-linejoin="miter"/>
<path d="M1072.5,407.5 V182.75 H1105.75 V407.5" fill="none" stroke="#FF8080" stroke-width="3.5" stroke-linejoin="miter"/>
<line x1="637" y1="301.5" x2="637" y2="324" stroke="#FF8080" stroke-width="3.5"/>
<line x1="628.25" y1="301.5" x2="645.75" y2="301.5" stroke="#FF8080" stroke-width="3.5"/>
<line x1="628.25" y1="324" x2="645.75" y2="324" stroke="#FF8080" stroke-width="3.5"/>
<line x1="737.4" y1="340" x2="737.4" y2="348" stroke="#58A0FA" stroke-width="3.5"/>
<line x1="728.9" y1="340" x2="745.9" y2="340" stroke="#58A0FA" stroke-width="3.5"/>
<line x1="728.9" y1="348" x2="745.9" y2="348" stroke="#58A0FA" stroke-width="3.5"/>
<line x1="787.7" y1="277.5" x2="787.7" y2="317.5" stroke="#FF8080" stroke-width="3.5"/>
<line x1="779.2" y1="277.5" x2="796.2" y2="277.5" stroke="#FF8080" stroke-width="3.5"/>
<line x1="779.2" y1="317.5" x2="796.2" y2="317.5" stroke="#FF8080" stroke-width="3.5"/>
<line x1="938.4" y1="194.5" x2="938.4" y2="243.75" stroke="#FF8080" stroke-width="3.5"/>
<line x1="1038.9" y1="320.75" x2="1038.9" y2="346.25" stroke="#58A0FA" stroke-width="3.5"/>
<line x1="1030.4" y1="320.75" x2="1047.4" y2="320.75" stroke="#58A0FA" stroke-width="3.5"/>
<line x1="1030.4" y1="346.25" x2="1047.4" y2="346.25" stroke="#58A0FA" stroke-width="3.5"/>
<line x1="1089.1" y1="157" x2="1089.1" y2="208" stroke="#FF8080" stroke-width="3.5"/>
<line x1="1080.6" y1="157" x2="1097.6" y2="157" stroke="#FF8080" stroke-width="3.5"/>
<line x1="1080.6" y1="208" x2="1097.6" y2="208" stroke="#FF8080" stroke-width="3.5"/>
<ellipse cx="582.5" cy="353.75" rx="10.2" ry="8.4" fill="#58A0FA"/>
<ellipse cx="587.5" cy="360" rx="10.2" ry="8.4" fill="#58A0FA"/>
<ellipse cx="592.5" cy="356" rx="10.2" ry="8.4" fill="#58A0FA"/>
<ellipse cx="637" cy="290" rx="10.2" ry="8.4" fill="#FF8080"/>
<ellipse cx="628.75" cy="325" rx="10.2" ry="8.4" fill="#FF8080"/>
<ellipse cx="646.25" cy="323.75" rx="10.2" ry="8.4" fill="#FF8080"/>
<ellipse cx="733" cy="333" rx="10.2" ry="8.4" fill="#58A0FA"/>
<ellipse cx="736" cy="347.5" rx="10.2" ry="8.4" fill="#58A0FA"/>
<ellipse cx="741" cy="349" rx="10.2" ry="8.4" fill="#58A0FA"/>
<ellipse cx="787.7" cy="261.75" rx="10.2" ry="8.4" fill="#FF8080"/>
<ellipse cx="787.7" cy="302" rx="10.2" ry="8.4" fill="#FF8080"/>
<ellipse cx="787.7" cy="330.5" rx="10.2" ry="8.4" fill="#FF8080"/>
<ellipse cx="883.75" cy="311" rx="10.2" ry="8.4" fill="#58A0FA"/>
<ellipse cx="890" cy="312.5" rx="10.2" ry="8.4" fill="#58A0FA"/>
<ellipse cx="896" cy="312.5" rx="10.2" ry="8.4" fill="#58A0FA"/>
<ellipse cx="938.4" cy="194.5" rx="10.2" ry="8.4" fill="#FF8080"/>
<ellipse cx="938.4" cy="243.75" rx="10.2" ry="8.4" fill="#FF8080"/>
<ellipse cx="1038.9" cy="312.5" rx="10.2" ry="8.4" fill="#58A0FA"/>
<ellipse cx="1038.9" cy="333.25" rx="10.2" ry="8.4" fill="#58A0FA"/>
<ellipse cx="1038.9" cy="356.25" rx="10.2" ry="8.4" fill="#58A0FA"/>
<ellipse cx="1089.1" cy="138.25" rx="10.2" ry="8.4" fill="#FF8080"/>
<ellipse cx="1089.1" cy="182" rx="10.2" ry="8.4" fill="#FF8080"/>
<ellipse cx="1089.1" cy="227" rx="10.2" ry="8.4" fill="#FF8080"/>
<line x1="537" y1="76.4" x2="537" y2="409.6" stroke="#000000" stroke-width="4.2"/>
<line x1="525.5" y1="407.5" x2="1141.75" y2="407.5" stroke="#000000" stroke-width="4.2"/>
<line x1="525.5" y1="407.5" x2="537" y2="407.5" stroke="#000000" stroke-width="4.2"/>
<text x="516.9" y="418.24" font-size="30" text-anchor="end">0</text>
<line x1="525.5" y1="341.7" x2="537" y2="341.7" stroke="#000000" stroke-width="4.2"/>
<text x="516.9" y="352.44" font-size="30" text-anchor="end">20</text>
<line x1="525.5" y1="275.9" x2="537" y2="275.9" stroke="#000000" stroke-width="4.2"/>
<text x="516.9" y="286.64" font-size="30" text-anchor="end">40</text>
<line x1="525.5" y1="210.1" x2="537" y2="210.1" stroke="#000000" stroke-width="4.2"/>
<text x="516.9" y="220.84" font-size="30" text-anchor="end">60</text>
<line x1="525.5" y1="144.3" x2="537" y2="144.3" stroke="#000000" stroke-width="4.2"/>
<text x="516.9" y="155.04" font-size="30" text-anchor="end">80</text>
<line x1="525.5" y1="78.5" x2="537" y2="78.5" stroke="#000000" stroke-width="4.2"/>
<text x="516.9" y="89.24" font-size="30" text-anchor="end">100</text>
<line x1="612" y1="407.5" x2="612" y2="416.5" stroke="#000000" stroke-width="4.2"/>
<line x1="763" y1="407.5" x2="763" y2="416.5" stroke="#000000" stroke-width="4.2"/>
<line x1="913.25" y1="407.5" x2="913.25" y2="416.5" stroke="#000000" stroke-width="4.2"/>
<line x1="1063.75" y1="407.5" x2="1063.75" y2="416.5" stroke="#000000" stroke-width="4.2"/>
<text x="588.3" y="444.5" font-size="30.5" textLength="47.5">7W</text>
<text x="738.2" y="444.5" font-size="30.5" textLength="45">9W</text>
<text x="880.7" y="444.5" font-size="30.5" textLength="62">11W</text>
<text x="1032" y="444.5" font-size="30.5" textLength="61">14W</text>
<text x="-97.75" y="0" font-size="34.5" textLength="195.5" transform="translate(460,211.75) scale(1.13,1) rotate(-90)">Gal3 (ng/ml)</text>
<ellipse cx="563.5" cy="101.75" rx="10.2" ry="8.4" fill="#58A0FA"/>
<ellipse cx="563.5" cy="141.25" rx="10.2" ry="8.4" fill="#FF8080"/>
<text x="610.75" y="110.3" font-size="28" font-style="italic" textLength="71.75" lengthAdjust="spacingAndGlyphs">db/m</text>
<text x="610.75" y="151" font-size="28" font-style="italic" textLength="80.5" lengthAdjust="spacingAndGlyphs">db/db</text>
<text x="563.75" y="242.5" font-size="28.3" font-style="italic" textLength="106.25">P=0.018</text>
<text x="845.75" y="155" font-size="28.3" font-style="italic" textLength="105.5">P=0.015</text>
<text x="1016.75" y="102.5" font-size="28.3" font-style="italic" textLength="106.5">P=0.006</text>
<path d="M573,269.5 V261.75 H635 V269.5" fill="none" stroke="#000000" stroke-width="3.6" stroke-linejoin="miter"/>
<path d="M878.75,174.25 V165.4 H936.75 V174.25" fill="none" stroke="#000000" stroke-width="3.6" stroke-linejoin="miter"/>
<path d="M1034.75,121.25 V112.9 H1090.75 V121.25" fill="none" stroke="#000000" stroke-width="3.6" stroke-linejoin="miter"/>
</g>
<g id="pe">
<text x="842.3" y="545" font-size="49" fill="#000000">e</text>
<path d="M920.9,929.2 V842 H935.5 V929.2" fill="none" stroke="#58A0FA" stroke-width="4.2" stroke-linejoin="miter"/>
<path d="M943,929.2 V761 H957.6 V929.2" fill="none" stroke="#EC7B7C" stroke-width="4.2" stroke-linejoin="miter"/>
<line x1="928.2" y1="826" x2="928.2" y2="856" stroke="#58A0FA" stroke-width="4.6"/>
<line x1="923.4" y1="826" x2="933" y2="826" stroke="#58A0FA" stroke-width="4.6"/>
<line x1="923.4" y1="856" x2="933" y2="856" stroke="#58A0FA" stroke-width="4.6"/>
<line x1="950.3" y1="707.5" x2="950.3" y2="811" stroke="#EC7B7C" stroke-width="4.6"/>
<line x1="945.5" y1="707.5" x2="955.1" y2="707.5" stroke="#EC7B7C" stroke-width="4.6"/>
<line x1="945.5" y1="811" x2="955.1" y2="811" stroke="#EC7B7C" stroke-width="4.6"/>
<circle cx="928.2" cy="816.25" r="7" fill="#58A0FA"/>
<circle cx="924.45" cy="833.75" r="7" fill="#58A0FA"/>
<circle cx="931.95" cy="833.75" r="7" fill="#58A0FA"/>
<circle cx="928.2" cy="877.5" r="7" fill="#58A0FA"/>
<circle cx="950.3" cy="610.75" r="7" fill="#EC7B7C"/>
<circle cx="950.3" cy="778.75" r="7" fill="#EC7B7C"/>
<circle cx="950.3" cy="800" r="7" fill="#EC7B7C"/>
<circle cx="950.3" cy="852.5" r="7" fill="#EC7B7C"/>
<path d="M982.8,929.2 V871 H997.4 V929.2" fill="none" stroke="#58A0FA" stroke-width="4.2" stroke-linejoin="miter"/>
<path d="M1004.9,929.2 V778 H1019.5 V929.2" fill="none" stroke="#EC7B7C" stroke-width="4.2" stroke-linejoin="miter"/>
<line x1="1012.2" y1="745" x2="1012.2" y2="806" stroke="#EC7B7C" stroke-width="4.6"/>
<line x1="1007.4" y1="745" x2="1017" y2="745" stroke="#EC7B7C" stroke-width="4.6"/>
<line x1="1007.4" y1="806" x2="1017" y2="806" stroke="#EC7B7C" stroke-width="4.6"/>
<circle cx="985.85" cy="864.5" r="7" fill="#58A0FA"/>
<circle cx="990.85" cy="859.5" r="7" fill="#58A0FA"/>
<circle cx="989.6" cy="872.5" r="7" fill="#58A0FA"/>
<circle cx="993.35" cy="877.5" r="7" fill="#58A0FA"/>
<circle cx="1012.2" cy="697.5" r="7" fill="#EC7B7C"/>
<circle cx="1012.2" cy="771.25" r="7" fill="#EC7B7C"/>
<circle cx="1012.2" cy="797.5" r="7" fill="#EC7B7C"/>
<circle cx="1012.2" cy="842.5" r="7" fill="#EC7B7C"/>
<path d="M1044.7,929.2 V841.5 H1059.3 V929.2" fill="none" stroke="#58A0FA" stroke-width="4.2" stroke-linejoin="miter"/>
<path d="M1066.8,929.2 V758.5 H1081.4 V929.2" fill="none" stroke="#EC7B7C" stroke-width="4.2" stroke-linejoin="miter"/>
<circle cx="1049.5" cy="835.5" r="7" fill="#58A0FA"/>
<circle cx="1054.5" cy="835.5" r="7" fill="#58A0FA"/>
<circle cx="1057" cy="840" r="7" fill="#58A0FA"/>
<circle cx="1052" cy="860" r="7" fill="#58A0FA"/>
<circle cx="1074.1" cy="723.75" r="7" fill="#EC7B7C"/>
<circle cx="1074.1" cy="747.5" r="7" fill="#EC7B7C"/>
<circle cx="1070.85" cy="768.75" r="7" fill="#EC7B7C"/>
<circle cx="1077.1" cy="768.75" r="7" fill="#EC7B7C"/>
<circle cx="1075.85" cy="776" r="7" fill="#EC7B7C"/>
<path d="M1106.6,929.2 V842 H1121.2 V929.2" fill="none" stroke="#58A0FA" stroke-width="4.2" stroke-linejoin="miter"/>
<path d="M1128.7,929.2 V756 H1143.3 V929.2" fill="none" stroke="#EC7B7C" stroke-width="4.2" stroke-linejoin="miter"/>
<circle cx="1113.9" cy="812.5" r="7" fill="#58A0FA"/>
<circle cx="1113.9" cy="828.75" r="7" fill="#58A0FA"/>
<circle cx="1110.65" cy="843.75" r="7" fill="#58A0FA"/>
<circle cx="1111.9" cy="851" r="7" fill="#58A0FA"/>
<circle cx="1115.65" cy="857" r="7" fill="#58A0FA"/>
<circle cx="1134.75" cy="733" r="7" fill="#EC7B7C"/>
<circle cx="1137.25" cy="746.25" r="7" fill="#EC7B7C"/>
<circle cx="1132.25" cy="756" r="7" fill="#EC7B7C"/>
<circle cx="1136" cy="763.75" r="7" fill="#EC7B7C"/>
<circle cx="1138.5" cy="770" r="7" fill="#EC7B7C"/>
<path d="M1168.5,929.2 V841.5 H1183.1 V929.2" fill="none" stroke="#58A0FA" stroke-width="4.2" stroke-linejoin="miter"/>
<path d="M1190.6,929.2 V739.75 H1205.2 V929.2" fill="none" stroke="#EC7B7C" stroke-width="4.2" stroke-linejoin="miter"/>
<circle cx="1175.8" cy="828" r="7" fill="#58A0FA"/>
<circle cx="1173.3" cy="840.5" r="7" fill="#58A0FA"/>
<circle cx="1178.3" cy="848.75" r="7" fill="#58A0FA"/>
<circle cx="1197.9" cy="717.5" r="7" fill="#EC7B7C"/>
<circle cx="1194.65" cy="731" r="7" fill="#EC7B7C"/>
<circle cx="1200.9" cy="736" r="7" fill="#EC7B7C"/>
<circle cx="1195.9" cy="750" r="7" fill="#EC7B7C"/>
<circle cx="1199.65" cy="756" r="7" fill="#EC7B7C"/>
<path d="M1230.4,929.2 V841.5 H1245 V929.2" fill="none" stroke="#58A0FA" stroke-width="4.2" stroke-linejoin="miter"/>
<path d="M1252.5,929.2 V744.75 H1267.1 V929.2" fill="none" stroke="#EC7B7C" stroke-width="4.2" stroke-linejoin="miter"/>
<line x1="1259.8" y1="733" x2="1259.8" y2="750" stroke="#EC7B7C" stroke-width="4.6"/>
<line x1="1255" y1="733" x2="1264.6" y2="733" stroke="#EC7B7C" stroke-width="4.6"/>
<line x1="1255" y1="750" x2="1264.6" y2="750" stroke="#EC7B7C" stroke-width="4.6"/>
<circle cx="1234.7" cy="823.75" r="7" fill="#58A0FA"/>
<circle cx="1240.95" cy="823.75" r="7" fill="#58A0FA"/>
<circle cx="1234.7" cy="842.5" r="7" fill="#58A0FA"/>
<circle cx="1239.7" cy="842.5" r="7" fill="#58A0FA"/>
<circle cx="1234.7" cy="856" r="7" fill="#58A0FA"/>
<circle cx="1239.7" cy="857.5" r="7" fill="#58A0FA"/>
<circle cx="1259.8" cy="710" r="7" fill="#EC7B7C"/>
<circle cx="1259.8" cy="726.25" r="7" fill="#EC7B7C"/>
<circle cx="1256.05" cy="750" r="7" fill="#EC7B7C"/>
<circle cx="1263.55" cy="750" r="7" fill="#EC7B7C"/>
<circle cx="1259.8" cy="780" r="7" fill="#EC7B7C"/>
<path d="M1292.3,929.2 V843 H1306.9 V929.2" fill="none" stroke="#58A0FA" stroke-width="4.2" stroke-linejoin="miter"/>
<path d="M1314.4,929.2 V804.25 H1329 V929.2" fill="none" stroke="#EC7B7C" stroke-width="4.2" stroke-linejoin="miter"/>
<line x1="1299.6" y1="825" x2="1299.6" y2="856" stroke="#58A0FA" stroke-width="4.6"/>
<line x1="1294.8" y1="825" x2="1304.4" y2="825" stroke="#58A0FA" stroke-width="4.6"/>
<line x1="1294.8" y1="856" x2="1304.4" y2="856" stroke="#58A0FA" stroke-width="4.6"/>
<circle cx="1299.6" cy="787.5" r="7" fill="#58A0FA"/>
<circle cx="1295.85" cy="820" r="7" fill="#58A0FA"/>
<circle cx="1302.1" cy="824" r="7" fill="#58A0FA"/>
<circle cx="1295.85" cy="879" r="7" fill="#58A0FA"/>
<circle cx="1302.1" cy="885" r="7" fill="#58A0FA"/>
<circle cx="1321.7" cy="782.5" r="7" fill="#EC7B7C"/>
<circle cx="1318.7" cy="795" r="7" fill="#EC7B7C"/>
<circle cx="1323.7" cy="806" r="7" fill="#EC7B7C"/>
<circle cx="1321.7" cy="830" r="7" fill="#EC7B7C"/>
<path d="M1354.2,929.2 V843 H1368.8 V929.2" fill="none" stroke="#58A0FA" stroke-width="4.2" stroke-linejoin="miter"/>
<path d="M1376.3,929.2 V729 H1390.9 V929.2" fill="none" stroke="#EC7B7C" stroke-width="4.2" stroke-linejoin="miter"/>
<line x1="1361.5" y1="822.5" x2="1361.5" y2="856" stroke="#58A0FA" stroke-width="4.6"/>
<line x1="1356.7" y1="822.5" x2="1366.3" y2="822.5" stroke="#58A0FA" stroke-width="4.6"/>
<line x1="1356.7" y1="856" x2="1366.3" y2="856" stroke="#58A0FA" stroke-width="4.6"/>
<line x1="1383.6" y1="687.5" x2="1383.6" y2="768.75" stroke="#EC7B7C" stroke-width="4.6"/>
<line x1="1378.8" y1="687.5" x2="1388.4" y2="687.5" stroke="#EC7B7C" stroke-width="4.6"/>
<line x1="1378.8" y1="768.75" x2="1388.4" y2="768.75" stroke="#EC7B7C" stroke-width="4.6"/>
<circle cx="1361.5" cy="790" r="7" fill="#58A0FA"/>
<circle cx="1361.5" cy="850" r="7" fill="#58A0FA"/>
<circle cx="1361.5" cy="873.75" r="7" fill="#58A0FA"/>
<circle cx="1383.6" cy="618.75" r="7" fill="#EC7B7C"/>
<circle cx="1383.6" cy="659.5" r="7" fill="#EC7B7C"/>
<circle cx="1383.6" cy="793.75" r="7" fill="#EC7B7C"/>
<circle cx="1383.6" cy="826.25" r="7" fill="#EC7B7C"/>
<line x1="908.75" y1="573.7" x2="908.75" y2="931.4" stroke="#000000" stroke-width="4.4"/>
<line x1="899.35" y1="929.2" x2="1406.25" y2="929.2" stroke="#000000" stroke-width="4.4"/>
<line x1="899.35" y1="929.2" x2="908.75" y2="929.2" stroke="#000000" stroke-width="4.4"/>
<text x="0" y="0" font-size="27.5" textLength="15.51" transform="translate(878.8,939.05) scale(1.07,1)">0</text>
<line x1="899.35" y1="840.8" x2="908.75" y2="840.8" stroke="#000000" stroke-width="4.4"/>
<text x="0" y="0" font-size="27.5" textLength="15.51" transform="translate(878.8,850.65) scale(1.07,1)">1</text>
<line x1="899.35" y1="752.4" x2="908.75" y2="752.4" stroke="#000000" stroke-width="4.4"/>
<text x="0" y="0" font-size="27.5" textLength="15.51" transform="translate(878.8,762.25) scale(1.07,1)">2</text>
<line x1="899.35" y1="664" x2="908.75" y2="664" stroke="#000000" stroke-width="4.4"/>
<text x="0" y="0" font-size="27.5" textLength="15.51" transform="translate(878.8,673.85) scale(1.07,1)">3</text>
<line x1="899.35" y1="575.6" x2="908.75" y2="575.6" stroke="#000000" stroke-width="4.4"/>
<text x="0" y="0" font-size="27.5" textLength="15.51" transform="translate(878.8,585.45) scale(1.07,1)">4</text>
<line x1="939.3" y1="929.2" x2="939.3" y2="939.6" stroke="#000000" stroke-width="4.4"/>
<line x1="1001.2" y1="929.2" x2="1001.2" y2="939.6" stroke="#000000" stroke-width="4.4"/>
<line x1="1063.1" y1="929.2" x2="1063.1" y2="939.6" stroke="#000000" stroke-width="4.4"/>
<line x1="1125" y1="929.2" x2="1125" y2="939.6" stroke="#000000" stroke-width="4.4"/>
<line x1="1186.9" y1="929.2" x2="1186.9" y2="939.6" stroke="#000000" stroke-width="4.4"/>
<line x1="1248.8" y1="929.2" x2="1248.8" y2="939.6" stroke="#000000" stroke-width="4.4"/>
<line x1="1310.7" y1="929.2" x2="1310.7" y2="939.6" stroke="#000000" stroke-width="4.4"/>
<line x1="1372.6" y1="929.2" x2="1372.6" y2="939.6" stroke="#000000" stroke-width="4.4"/>
<text x="0" y="0" font-size="29" text-anchor="end" font-style="italic" transform="translate(946.1,962.5) rotate(-45)">Lgals3</text>
<text x="0" y="0" font-size="29" text-anchor="end" font-style="italic" transform="translate(1008,962.5) rotate(-45)">Adgre1</text>
<text x="0" y="0" font-size="29" text-anchor="end" font-style="italic" transform="translate(1069.9,962.5) rotate(-45)">Itgax</text>
<text x="0" y="0" font-size="29" text-anchor="end" font-style="italic" transform="translate(1131.8,962.5) rotate(-45)">Ccl2</text>
<text x="0" y="0" font-size="29" text-anchor="end" font-style="italic" transform="translate(1193.7,962.5) rotate(-45)">Ccl5</text>
<text x="0" y="0" font-size="29" text-anchor="end" font-style="italic" transform="translate(1255.6,962.5) rotate(-45)">Il-6</text>
<text x="0" y="0" font-size="29" text-anchor="end" font-style="italic" transform="translate(1317.5,962.5) rotate(-45)">Tnfα</text>
<text x="0" y="0" font-size="29" text-anchor="end" font-style="italic" transform="translate(1379.4,962.5) rotate(-45)">Il-1β</text>
<text x="-157" y="0" font-size="32.5" textLength="314" transform="translate(861.7,747.3) rotate(-90)">Relative mRNA level</text>
<line x1="986.75" y1="679.5" x2="1016.75" y2="679.5" stroke="#000000" stroke-width="4.2"/>
<line x1="1045.5" y1="700.5" x2="1085" y2="700.5" stroke="#000000" stroke-width="4.2"/>
<line x1="1105.75" y1="714" x2="1145.75" y2="714" stroke="#000000" stroke-width="4.2"/>
<line x1="1164.5" y1="698.75" x2="1203.75" y2="698.75" stroke="#000000" stroke-width="4.2"/>
<line x1="1225.75" y1="688.5" x2="1265.75" y2="688.5" stroke="#000000" stroke-width="4.2"/>
<line x1="1355.5" y1="602.5" x2="1385" y2="602.5" stroke="#000000" stroke-width="4.2"/>
<text x="947.3" y="666.25" font-size="26.5" font-style="italic" textLength="98.5">P=0.011</text>
<text x="1305.3" y="562.3" font-size="27" font-style="italic" textLength="100">P=0.038</text>
<text x="0" y="0" font-size="28" font-style="italic" textLength="121" transform="translate(1062,695.5) rotate(-48)">P&lt;0.0001</text>
<text x="0" y="0" font-size="28" font-style="italic" textLength="121" transform="translate(1120,707) rotate(-48)">P&lt;0.0001</text>
<text x="0" y="0" font-size="28" font-style="italic" textLength="121" transform="translate(1188.5,688.5) rotate(-48)">P&lt;0.0001</text>
<text x="0" y="0" font-size="28" font-style="italic" textLength="121" transform="translate(1245,682) rotate(-48)">P&lt;0.0001</text>
<circle cx="1036.5" cy="562" r="7" fill="#58A0FA"/>
<circle cx="1150.5" cy="562" r="7" fill="#EC7B7C"/>
<text x="1074.3" y="572.5" font-size="29" textLength="39.5">NC</text>
<text x="1188.5" y="572.5" font-size="29" textLength="56.5">HFD</text>
</g>
<g id="pf">
<text x="1424.5" y="545" font-size="49" fill="#000000">f</text>
<path d="M1513.7,929.2 V842.25 H1528.3 V929.2" fill="none" stroke="#58A0FA" stroke-width="4.2" stroke-linejoin="miter"/>
<path d="M1536.1,929.2 V774.75 H1550.7 V929.2" fill="none" stroke="#EC7B7C" stroke-width="4.2" stroke-linejoin="miter"/>
<line x1="1521" y1="826" x2="1521" y2="856" stroke="#58A0FA" stroke-width="4.6"/>
<line x1="1516.2" y1="826" x2="1525.8" y2="826" stroke="#58A0FA" stroke-width="4.6"/>
<line x1="1516.2" y1="856" x2="1525.8" y2="856" stroke="#58A0FA" stroke-width="4.6"/>
<line x1="1543.4" y1="746" x2="1543.4" y2="796" stroke="#EC7B7C" stroke-width="4.6"/>
<line x1="1538.6" y1="746" x2="1548.2" y2="746" stroke="#EC7B7C" stroke-width="4.6"/>
<line x1="1538.6" y1="796" x2="1548.2" y2="796" stroke="#EC7B7C" stroke-width="4.6"/>
<circle cx="1518.75" cy="825" r="7" fill="#58A0FA"/>
<circle cx="1523.75" cy="840" r="7" fill="#58A0FA"/>
<circle cx="1521" cy="868.75" r="7" fill="#58A0FA"/>
<circle cx="1543.4" cy="722.5" r="7" fill="#EC7B7C"/>
<circle cx="1543.4" cy="741.75" r="7" fill="#EC7B7C"/>
<circle cx="1541.4" cy="812.5" r="7" fill="#EC7B7C"/>
<circle cx="1545.15" cy="815.5" r="7" fill="#EC7B7C"/>
<path d="M1575.6,929.2 V842.25 H1590.2 V929.2" fill="none" stroke="#58A0FA" stroke-width="4.2" stroke-linejoin="miter"/>
<path d="M1598,929.2 V776 H1612.6 V929.2" fill="none" stroke="#EC7B7C" stroke-width="4.2" stroke-linejoin="miter"/>
<line x1="1582.9" y1="824" x2="1582.9" y2="856" stroke="#58A0FA" stroke-width="4.6"/>
<line x1="1578.1" y1="824" x2="1587.7" y2="824" stroke="#58A0FA" stroke-width="4.6"/>
<line x1="1578.1" y1="856" x2="1587.7" y2="856" stroke="#58A0FA" stroke-width="4.6"/>
<line x1="1605.3" y1="741.25" x2="1605.3" y2="807" stroke="#EC7B7C" stroke-width="4.6"/>
<line x1="1600.5" y1="741.25" x2="1610.1" y2="741.25" stroke="#EC7B7C" stroke-width="4.6"/>
<line x1="1600.5" y1="807" x2="1610.1" y2="807" stroke="#EC7B7C" stroke-width="4.6"/>
<circle cx="1579.9" cy="820.75" r="7" fill="#58A0FA"/>
<circle cx="1586.15" cy="827" r="7" fill="#58A0FA"/>
<circle cx="1582.9" cy="870" r="7" fill="#58A0FA"/>
<circle cx="1605.3" cy="676.25" r="7" fill="#EC7B7C"/>
<circle cx="1605.3" cy="791.25" r="7" fill="#EC7B7C"/>
<circle cx="1602.8" cy="812.5" r="7" fill="#EC7B7C"/>
<circle cx="1607.8" cy="818.75" r="7" fill="#EC7B7C"/>
<path d="M1637.5,929.2 V842.25 H1652.1 V929.2" fill="none" stroke="#58A0FA" stroke-width="4.2" stroke-linejoin="miter"/>
<path d="M1659.9,929.2 V768 H1674.5 V929.2" fill="none" stroke="#EC7B7C" stroke-width="4.2" stroke-linejoin="miter"/>
<line x1="1644.8" y1="832" x2="1644.8" y2="848" stroke="#58A0FA" stroke-width="4.6"/>
<line x1="1640" y1="832" x2="1649.6" y2="832" stroke="#58A0FA" stroke-width="4.6"/>
<line x1="1640" y1="848" x2="1649.6" y2="848" stroke="#58A0FA" stroke-width="4.6"/>
<line x1="1667.2" y1="752" x2="1667.2" y2="782" stroke="#EC7B7C" stroke-width="4.6"/>
<line x1="1662.4" y1="752" x2="1672" y2="752" stroke="#EC7B7C" stroke-width="4.6"/>
<line x1="1662.4" y1="782" x2="1672" y2="782" stroke="#EC7B7C" stroke-width="4.6"/>
<circle cx="1644.8" cy="825" r="7" fill="#58A0FA"/>
<circle cx="1641.3" cy="845" r="7" fill="#58A0FA"/>
<circle cx="1647.55" cy="850" r="7" fill="#58A0FA"/>
<circle cx="1667.2" cy="722" r="7" fill="#EC7B7C"/>
<circle cx="1664.2" cy="740.75" r="7" fill="#EC7B7C"/>
<circle cx="1669.95" cy="752.5" r="7" fill="#EC7B7C"/>
<circle cx="1667.2" cy="785" r="7" fill="#EC7B7C"/>
<circle cx="1664.2" cy="796" r="7" fill="#EC7B7C"/>
<circle cx="1669.95" cy="798.75" r="7" fill="#EC7B7C"/>
<path d="M1699.4,929.2 V842.25 H1714 V929.2" fill="none" stroke="#58A0FA" stroke-width="4.2" stroke-linejoin="miter"/>
<path d="M1721.8,929.2 V770.5 H1736.4 V929.2" fill="none" stroke="#EC7B7C" stroke-width="4.2" stroke-linejoin="miter"/>
<circle cx="1703.95" cy="830" r="7" fill="#58A0FA"/>
<circle cx="1710.2" cy="837.5" r="7" fill="#58A0FA"/>
<circle cx="1706.7" cy="853.75" r="7" fill="#58A0FA"/>
<circle cx="1729.1" cy="752.5" r="7" fill="#EC7B7C"/>
<circle cx="1726.85" cy="760" r="7" fill="#EC7B7C"/>
<circle cx="1731.85" cy="770" r="7" fill="#EC7B7C"/>
<circle cx="1729.1" cy="780" r="7" fill="#EC7B7C"/>
<circle cx="1730.6" cy="788.75" r="7" fill="#EC7B7C"/>
<path d="M1761.3,929.2 V842.25 H1775.9 V929.2" fill="none" stroke="#58A0FA" stroke-width="4.2" stroke-linejoin="miter"/>
<path d="M1783.7,929.2 V761 H1798.3 V929.2" fill="none" stroke="#EC7B7C" stroke-width="4.2" stroke-linejoin="miter"/>
<line x1="1791" y1="750" x2="1791" y2="770" stroke="#EC7B7C" stroke-width="4.6"/>
<line x1="1786.2" y1="750" x2="1795.8" y2="750" stroke="#EC7B7C" stroke-width="4.6"/>
<line x1="1786.2" y1="770" x2="1795.8" y2="770" stroke="#EC7B7C" stroke-width="4.6"/>
<circle cx="1768.6" cy="832.5" r="7" fill="#58A0FA"/>
<circle cx="1766.35" cy="840" r="7" fill="#58A0FA"/>
<circle cx="1771.35" cy="847.5" r="7" fill="#58A0FA"/>
<circle cx="1791" cy="723.25" r="7" fill="#EC7B7C"/>
<circle cx="1791" cy="745" r="7" fill="#EC7B7C"/>
<circle cx="1788" cy="775" r="7" fill="#EC7B7C"/>
<circle cx="1793" cy="780" r="7" fill="#EC7B7C"/>
<path d="M1823.2,929.2 V842.25 H1837.8 V929.2" fill="none" stroke="#58A0FA" stroke-width="4.2" stroke-linejoin="miter"/>
<path d="M1845.6,929.2 V781 H1860.2 V929.2" fill="none" stroke="#EC7B7C" stroke-width="4.2" stroke-linejoin="miter"/>
<circle cx="1827.5" cy="831.25" r="7" fill="#58A0FA"/>
<circle cx="1833.75" cy="837.5" r="7" fill="#58A0FA"/>
<circle cx="1830.5" cy="841.25" r="7" fill="#58A0FA"/>
<circle cx="1832.5" cy="853.75" r="7" fill="#58A0FA"/>
<circle cx="1852.9" cy="758.75" r="7" fill="#EC7B7C"/>
<circle cx="1850.4" cy="776.25" r="7" fill="#EC7B7C"/>
<circle cx="1855.4" cy="782.5" r="7" fill="#EC7B7C"/>
<circle cx="1852.9" cy="790" r="7" fill="#EC7B7C"/>
<circle cx="1854.15" cy="797.5" r="7" fill="#EC7B7C"/>
<path d="M1885.1,929.2 V842.25 H1899.7 V929.2" fill="none" stroke="#58A0FA" stroke-width="4.2" stroke-linejoin="miter"/>
<path d="M1907.5,929.2 V798.5 H1922.1 V929.2" fill="none" stroke="#EC7B7C" stroke-width="4.2" stroke-linejoin="miter"/>
<line x1="1892.4" y1="832" x2="1892.4" y2="850" stroke="#58A0FA" stroke-width="4.6"/>
<line x1="1887.6" y1="832" x2="1897.2" y2="832" stroke="#58A0FA" stroke-width="4.6"/>
<line x1="1887.6" y1="850" x2="1897.2" y2="850" stroke="#58A0FA" stroke-width="4.6"/>
<line x1="1914.8" y1="785" x2="1914.8" y2="810" stroke="#EC7B7C" stroke-width="4.6"/>
<line x1="1910" y1="785" x2="1919.6" y2="785" stroke="#EC7B7C" stroke-width="4.6"/>
<line x1="1910" y1="810" x2="1919.6" y2="810" stroke="#EC7B7C" stroke-width="4.6"/>
<circle cx="1892.4" cy="819.5" r="7" fill="#58A0FA"/>
<circle cx="1890.15" cy="841.25" r="7" fill="#58A0FA"/>
<circle cx="1895.15" cy="846.25" r="7" fill="#58A0FA"/>
<circle cx="1893.9" cy="852.5" r="7" fill="#58A0FA"/>
<circle cx="1911.8" cy="765" r="7" fill="#EC7B7C"/>
<circle cx="1917.55" cy="780.5" r="7" fill="#EC7B7C"/>
<circle cx="1913.05" cy="811.25" r="7" fill="#EC7B7C"/>
<circle cx="1916.8" cy="822.5" r="7" fill="#EC7B7C"/>
<path d="M1947,929.2 V842.25 H1961.6 V929.2" fill="none" stroke="#58A0FA" stroke-width="4.2" stroke-linejoin="miter"/>
<path d="M1969.4,929.2 V764.75 H1984 V929.2" fill="none" stroke="#EC7B7C" stroke-width="4.2" stroke-linejoin="miter"/>
<line x1="1954.3" y1="828" x2="1954.3" y2="856" stroke="#58A0FA" stroke-width="4.6"/>
<line x1="1949.5" y1="828" x2="1959.1" y2="828" stroke="#58A0FA" stroke-width="4.6"/>
<line x1="1949.5" y1="856" x2="1959.1" y2="856" stroke="#58A0FA" stroke-width="4.6"/>
<line x1="1976.7" y1="714.25" x2="1976.7" y2="811" stroke="#EC7B7C" stroke-width="4.6"/>
<line x1="1971.9" y1="714.25" x2="1981.5" y2="714.25" stroke="#EC7B7C" stroke-width="4.6"/>
<line x1="1971.9" y1="811" x2="1981.5" y2="811" stroke="#EC7B7C" stroke-width="4.6"/>
<circle cx="1954.3" cy="809.25" r="7" fill="#58A0FA"/>
<circle cx="1954.3" cy="836.25" r="7" fill="#58A0FA"/>
<circle cx="1951.55" cy="850" r="7" fill="#58A0FA"/>
<circle cx="1956.55" cy="862.5" r="7" fill="#58A0FA"/>
<circle cx="1976.7" cy="619.5" r="7" fill="#EC7B7C"/>
<circle cx="1974.45" cy="792.5" r="7" fill="#EC7B7C"/>
<circle cx="1979.45" cy="802.5" r="7" fill="#EC7B7C"/>
<circle cx="1976.7" cy="839.5" r="7" fill="#EC7B7C"/>
<line x1="1501.6" y1="573.7" x2="1501.6" y2="931.4" stroke="#000000" stroke-width="4.4"/>
<line x1="1492.2" y1="929.2" x2="1999" y2="929.2" stroke="#000000" stroke-width="4.4"/>
<line x1="1492.2" y1="929.2" x2="1501.6" y2="929.2" stroke="#000000" stroke-width="4.4"/>
<text x="0" y="0" font-size="27.5" textLength="15.51" transform="translate(1471.8,939.05) scale(1.07,1)">0</text>
<line x1="1492.2" y1="840.8" x2="1501.6" y2="840.8" stroke="#000000" stroke-width="4.4"/>
<text x="0" y="0" font-size="27.5" textLength="15.51" transform="translate(1471.8,850.65) scale(1.07,1)">1</text>
<line x1="1492.2" y1="752.4" x2="1501.6" y2="752.4" stroke="#000000" stroke-width="4.4"/>
<text x="0" y="0" font-size="27.5" textLength="15.51" transform="translate(1471.8,762.25) scale(1.07,1)">2</text>
<line x1="1492.2" y1="664" x2="1501.6" y2="664" stroke="#000000" stroke-width="4.4"/>
<text x="0" y="0" font-size="27.5" textLength="15.51" transform="translate(1471.8,673.85) scale(1.07,1)">3</text>
<line x1="1492.2" y1="575.6" x2="1501.6" y2="575.6" stroke="#000000" stroke-width="4.4"/>
<text x="0" y="0" font-size="27.5" textLength="15.51" transform="translate(1471.8,585.45) scale(1.07,1)">4</text>
<line x1="1531.3" y1="929.2" x2="1531.3" y2="939.6" stroke="#000000" stroke-width="4.4"/>
<line x1="1593.2" y1="929.2" x2="1593.2" y2="939.6" stroke="#000000" stroke-width="4.4"/>
<line x1="1655.1" y1="929.2" x2="1655.1" y2="939.6" stroke="#000000" stroke-width="4.4"/>
<line x1="1717" y1="929.2" x2="1717" y2="939.6" stroke="#000000" stroke-width="4.4"/>
<line x1="1778.9" y1="929.2" x2="1778.9" y2="939.6" stroke="#000000" stroke-width="4.4"/>
<line x1="1840.8" y1="929.2" x2="1840.8" y2="939.6" stroke="#000000" stroke-width="4.4"/>
<line x1="1902.7" y1="929.2" x2="1902.7" y2="939.6" stroke="#000000" stroke-width="4.4"/>
<line x1="1964.6" y1="929.2" x2="1964.6" y2="939.6" stroke="#000000" stroke-width="4.4"/>
<text x="0" y="0" font-size="29" text-anchor="end" font-style="italic" transform="translate(1538.1,962.5) rotate(-45)">Lgals3</text>
<text x="0" y="0" font-size="29" text-anchor="end" font-style="italic" transform="translate(1600,962.5) rotate(-45)">Adgre1</text>
<text x="0" y="0" font-size="29" text-anchor="end" font-style="italic" transform="translate(1661.9,962.5) rotate(-45)">Itgax</text>
<text x="0" y="0" font-size="29" text-anchor="end" font-style="italic" transform="translate(1723.8,962.5) rotate(-45)">Ccl2</text>
<text x="0" y="0" font-size="29" text-anchor="end" font-style="italic" transform="translate(1785.7,962.5) rotate(-45)">Ccl5</text>
<text x="0" y="0" font-size="29" text-anchor="end" font-style="italic" transform="translate(1847.6,962.5) rotate(-45)">Il-6</text>
<text x="0" y="0" font-size="29" text-anchor="end" font-style="italic" transform="translate(1909.5,962.5) rotate(-45)">Tnfα</text>
<text x="0" y="0" font-size="29" text-anchor="end" font-style="italic" transform="translate(1971.4,962.5) rotate(-45)">Il-1β</text>
<text x="-157" y="0" font-size="32.5" textLength="314" transform="translate(1453.7,747.3) rotate(-90)">Relative mRNA level</text>
<line x1="1511.25" y1="701.5" x2="1551" y2="701.5" stroke="#000000" stroke-width="4.2"/>
<line x1="1631.25" y1="696.25" x2="1671" y2="696.25" stroke="#000000" stroke-width="4.2"/>
<line x1="1696.75" y1="731" x2="1736.5" y2="731" stroke="#000000" stroke-width="4.2"/>
<line x1="1755" y1="692.75" x2="1795" y2="692.75" stroke="#000000" stroke-width="4.2"/>
<line x1="1815" y1="742.5" x2="1854.5" y2="742.5" stroke="#000000" stroke-width="4.2"/>
<line x1="1880.5" y1="740.75" x2="1920" y2="740.75" stroke="#000000" stroke-width="4.2"/>
<text x="0" y="0" font-size="29" font-style="italic" textLength="108" transform="translate(1536.3,696) rotate(-55)">P=0.042</text>
<text x="0" y="0" font-size="29" font-style="italic" textLength="124" transform="translate(1663.5,691.5) rotate(-62)">P&lt;0.0001</text>
<text x="0" y="0" font-size="29" font-style="italic" textLength="124" transform="translate(1727.5,719.5) rotate(-56)">P&lt;0.0001</text>
<text x="0" y="0" font-size="29" font-style="italic" textLength="124" transform="translate(1799.5,687.5) rotate(-56.5)">P&lt;0.0001</text>
<text x="0" y="0" font-size="29" font-style="italic" textLength="124" transform="translate(1841,737.5) rotate(-58.3)">P&lt;0.0001</text>
<text x="0" y="0" font-size="29" font-style="italic" textLength="108" transform="translate(1899.5,731.5) rotate(-62)">P=0.017</text>
<circle cx="1615.75" cy="545" r="7" fill="#58A0FA"/>
<circle cx="1756.25" cy="545" r="7" fill="#EC7B7C"/>
<text x="1654.5" y="555.5" font-size="28" font-style="italic" textLength="64">db/m</text>
<text x="1795.5" y="555.5" font-size="28" font-style="italic" textLength="71">db/db</text>
</g>
<g id="pg">
<text x="2.5" y="1113.5" font-size="49" fill="#000000">g</text>
<path d="M200.4,1479.4 V1396.2 H256.3 V1479.4" fill="none" stroke="#58A0FA" stroke-width="3.5" stroke-linejoin="miter"/>
<path d="M321.7,1479.4 V1327.2 H377.5 V1479.4" fill="none" stroke="#FF8080" stroke-width="3.5" stroke-linejoin="miter"/>
<line x1="228" y1="1380.5" x2="228" y2="1396" stroke="#58A0FA" stroke-width="3.5"/>
<line x1="213" y1="1380.5" x2="243" y2="1380.5" stroke="#58A0FA" stroke-width="3.5"/>
<line x1="349.5" y1="1305.5" x2="349.5" y2="1343.75" stroke="#FF8080" stroke-width="3.5"/>
<line x1="334.5" y1="1305.5" x2="364.5" y2="1305.5" stroke="#FF8080" stroke-width="3.5"/>
<line x1="334.5" y1="1343.75" x2="364.5" y2="1343.75" stroke="#FF8080" stroke-width="3.5"/>
<circle cx="228" cy="1315" r="9.4" fill="#58A0FA"/>
<circle cx="228" cy="1338.25" r="9.4" fill="#58A0FA"/>
<circle cx="228" cy="1367" r="9.4" fill="#58A0FA"/>
<circle cx="220" cy="1401.25" r="9.4" fill="#58A0FA"/>
<circle cx="235.75" cy="1406" r="9.4" fill="#58A0FA"/>
<circle cx="204.5" cy="1410" r="9.4" fill="#58A0FA"/>
<circle cx="252" cy="1411.25" r="9.4" fill="#58A0FA"/>
<circle cx="220" cy="1420" r="9.4" fill="#58A0FA"/>
<circle cx="235.75" cy="1421" r="9.4" fill="#58A0FA"/>
<circle cx="228" cy="1441" r="9.4" fill="#58A0FA"/>
<circle cx="349.5" cy="1179.5" r="9.4" fill="#FF8080"/>
<circle cx="349.5" cy="1292.5" r="9.4" fill="#FF8080"/>
<circle cx="372.5" cy="1287.5" r="9.4" fill="#FF8080"/>
<circle cx="349.5" cy="1318" r="9.4" fill="#FF8080"/>
<circle cx="349.5" cy="1338.75" r="9.4" fill="#FF8080"/>
<circle cx="326.25" cy="1357.5" r="9.4" fill="#FF8080"/>
<circle cx="372.5" cy="1358.75" r="9.4" fill="#FF8080"/>
<circle cx="349.5" cy="1364.5" r="9.4" fill="#FF8080"/>
<circle cx="326.25" cy="1374.5" r="9.4" fill="#FF8080"/>
<circle cx="372.5" cy="1375" r="9.4" fill="#FF8080"/>
<line x1="168.4" y1="1113.2" x2="168.4" y2="1481.5" stroke="#000000" stroke-width="4.2"/>
<line x1="157.5" y1="1479.4" x2="412" y2="1479.4" stroke="#000000" stroke-width="4.2"/>
<line x1="157.5" y1="1479.4" x2="168.4" y2="1479.4" stroke="#000000" stroke-width="4.2"/>
<text x="0" y="0" font-size="31.5" textLength="81.72" transform="translate(76.7,1490.6) scale(0.93,1)">0.000</text>
<line x1="157.5" y1="1406.6" x2="168.4" y2="1406.6" stroke="#000000" stroke-width="4.2"/>
<text x="0" y="0" font-size="31.5" textLength="81.72" transform="translate(76.7,1417.8) scale(0.93,1)">0.005</text>
<line x1="157.5" y1="1333.8" x2="168.4" y2="1333.8" stroke="#000000" stroke-width="4.2"/>
<text x="0" y="0" font-size="31.5" textLength="81.72" transform="translate(76.7,1345) scale(0.93,1)">0.010</text>
<line x1="157.5" y1="1261" x2="168.4" y2="1261" stroke="#000000" stroke-width="4.2"/>
<text x="0" y="0" font-size="31.5" textLength="81.72" transform="translate(76.7,1272.2) scale(0.93,1)">0.015</text>
<line x1="157.5" y1="1188.2" x2="168.4" y2="1188.2" stroke="#000000" stroke-width="4.2"/>
<text x="0" y="0" font-size="31.5" textLength="81.72" transform="translate(76.7,1199.4) scale(0.93,1)">0.020</text>
<line x1="157.5" y1="1115.4" x2="168.4" y2="1115.4" stroke="#000000" stroke-width="4.2"/>
<text x="0" y="0" font-size="31.5" textLength="81.72" transform="translate(76.7,1126.6) scale(0.93,1)">0.025</text>
<line x1="228" y1="1479.4" x2="228" y2="1490" stroke="#000000" stroke-width="4.2"/>
<line x1="349.5" y1="1479.4" x2="349.5" y2="1490" stroke="#000000" stroke-width="4.2"/>
<text x="207.5" y="1520.3" font-size="30" textLength="45">NC</text>
<text x="320.12" y="1520.3" font-size="30" textLength="63.75">HFD</text>
<text x="-123" y="0" font-size="32" textLength="246" transform="translate(42.6,1296.2) scale(1.1,1) rotate(-90)">Gal3 (ng/µg Pro.)</text>
<text x="227.8" y="1133" font-size="29.5" font-style="italic" textLength="108.5">P=0.005</text>
<path d="M223.3,1162.5 V1148.1 H349.3 V1162.5" fill="none" stroke="#000000" stroke-width="4" stroke-linejoin="miter"/>
</g>
<g id="ph">
<text x="445.5" y="1113.8" font-size="49" fill="#000000">h</text>
<path d="M597.3,1471.1 V1394.4 H656.8 V1471.1" fill="none" stroke="#58A0FA" stroke-width="3.5" stroke-linejoin="miter"/>
<path d="M715.6,1471.1 V1170.1 H775.1 V1471.1" fill="none" stroke="#FF8080" stroke-width="3.5" stroke-linejoin="miter"/>
<line x1="627" y1="1373.25" x2="627" y2="1415" stroke="#58A0FA" stroke-width="3.5"/>
<line x1="611.8" y1="1373.25" x2="642.2" y2="1373.25" stroke="#58A0FA" stroke-width="3.5"/>
<line x1="611.8" y1="1415" x2="642.2" y2="1415" stroke="#58A0FA" stroke-width="3.5"/>
<line x1="745.5" y1="1156.25" x2="745.5" y2="1183.75" stroke="#FF8080" stroke-width="3.5"/>
<line x1="730.3" y1="1156.25" x2="760.7" y2="1156.25" stroke="#FF8080" stroke-width="3.5"/>
<line x1="730.3" y1="1183.75" x2="760.7" y2="1183.75" stroke="#FF8080" stroke-width="3.5"/>
<circle cx="616.25" cy="1349.25" r="9.3" fill="#58A0FA"/>
<circle cx="637.5" cy="1370" r="9.3" fill="#58A0FA"/>
<circle cx="637.5" cy="1422" r="9.3" fill="#58A0FA"/>
<circle cx="616.25" cy="1436.25" r="9.3" fill="#58A0FA"/>
<circle cx="735" cy="1141.25" r="9.3" fill="#FF8080"/>
<circle cx="756.25" cy="1153.25" r="9.3" fill="#FF8080"/>
<circle cx="756.25" cy="1186.25" r="9.3" fill="#FF8080"/>
<circle cx="735" cy="1199.5" r="9.3" fill="#FF8080"/>
<line x1="567.1" y1="1112.4" x2="567.1" y2="1473.2" stroke="#000000" stroke-width="4.2"/>
<line x1="557.2" y1="1471.1" x2="806.75" y2="1471.1" stroke="#000000" stroke-width="4.2"/>
<line x1="557.2" y1="1471.1" x2="567.1" y2="1471.1" stroke="#000000" stroke-width="4.2"/>
<text x="0" y="0" font-size="31.5" textLength="63.33" transform="translate(495.5,1482.3) scale(0.9,1)">0.00</text>
<line x1="557.2" y1="1352.25" x2="567.1" y2="1352.25" stroke="#000000" stroke-width="4.2"/>
<text x="0" y="0" font-size="31.5" textLength="63.33" transform="translate(495.5,1363.45) scale(0.9,1)">0.05</text>
<line x1="557.2" y1="1233.4" x2="567.1" y2="1233.4" stroke="#000000" stroke-width="4.2"/>
<text x="0" y="0" font-size="31.5" textLength="63.33" transform="translate(495.5,1244.6) scale(0.9,1)">0.10</text>
<line x1="557.2" y1="1114.55" x2="567.1" y2="1114.55" stroke="#000000" stroke-width="4.2"/>
<text x="0" y="0" font-size="31.5" textLength="63.33" transform="translate(495.5,1125.75) scale(0.9,1)">0.15</text>
<line x1="627" y1="1471.1" x2="627" y2="1481.5" stroke="#000000" stroke-width="4.2"/>
<line x1="745.5" y1="1471.1" x2="745.5" y2="1481.5" stroke="#000000" stroke-width="4.2"/>
<text x="590" y="1512.75" font-size="32" font-style="italic" textLength="76.25" lengthAdjust="spacingAndGlyphs">db/m</text>
<text x="704.5" y="1512.75" font-size="32" font-style="italic" textLength="85.5" lengthAdjust="spacingAndGlyphs">db/db</text>
<text x="-120.5" y="0" font-size="32" textLength="241" transform="translate(481.3,1292.7) scale(1.1,1) rotate(-90)">Gal3 (ng/µg Pro.)</text>
<text x="640.5" y="1103" font-size="29.5" font-style="italic" textLength="121.5">P&lt;0.0001</text>
<path d="M654.6,1132.5 V1118.9 H738.6 V1132.5" fill="none" stroke="#000000" stroke-width="4" stroke-linejoin="miter"/>
</g>
<g id="pi">
<text x="883" y="1113.3" font-size="49" fill="#000000">i</text>
<path d="M1047.5,1472 V1467.5 H1098.3 V1472" fill="none" stroke="#58A0FA" stroke-width="3.5" stroke-linejoin="miter"/>
<path d="M1109.2,1472 V1460.6 H1160.4 V1472" fill="none" stroke="#FF8080" stroke-width="3.5" stroke-linejoin="miter"/>
<path d="M1222.5,1472 V1280.1 H1273.6 V1472" fill="none" stroke="#58A0FA" stroke-width="3.5" stroke-linejoin="miter"/>
<path d="M1283.8,1472 V1368.1 H1335.6 V1472" fill="none" stroke="#FF8080" stroke-width="3.5" stroke-linejoin="miter"/>
<line x1="1248.25" y1="1252.5" x2="1248.25" y2="1307.5" stroke="#58A0FA" stroke-width="3.5"/>
<line x1="1235.35" y1="1252.5" x2="1261.15" y2="1252.5" stroke="#58A0FA" stroke-width="3.5"/>
<line x1="1235.35" y1="1307.5" x2="1261.15" y2="1307.5" stroke="#58A0FA" stroke-width="3.5"/>
<line x1="1309.7" y1="1362" x2="1309.7" y2="1374" stroke="#FF8080" stroke-width="3.5"/>
<line x1="1296.8" y1="1362" x2="1322.6" y2="1362" stroke="#FF8080" stroke-width="3.5"/>
<line x1="1296.8" y1="1374" x2="1322.6" y2="1374" stroke="#FF8080" stroke-width="3.5"/>
<circle cx="1057.5" cy="1455.25" r="9.15" fill="#58A0FA"/>
<circle cx="1065" cy="1466.5" r="9.15" fill="#58A0FA"/>
<circle cx="1072.5" cy="1470" r="9.15" fill="#58A0FA"/>
<circle cx="1080" cy="1470" r="9.15" fill="#58A0FA"/>
<circle cx="1087.5" cy="1464.5" r="9.15" fill="#58A0FA"/>
<circle cx="1092.5" cy="1468" r="9.15" fill="#58A0FA"/>
<circle cx="1135" cy="1439" r="9.15" fill="#FF8080"/>
<circle cx="1125" cy="1461.5" r="9.15" fill="#FF8080"/>
<circle cx="1145" cy="1460.25" r="9.15" fill="#FF8080"/>
<circle cx="1128.75" cy="1470.25" r="9.15" fill="#FF8080"/>
<circle cx="1141.25" cy="1470.25" r="9.15" fill="#FF8080"/>
<circle cx="1135" cy="1465.25" r="9.15" fill="#FF8080"/>
<circle cx="1238" cy="1195.75" r="9.15" fill="#58A0FA"/>
<circle cx="1258.75" cy="1209.5" r="9.15" fill="#58A0FA"/>
<circle cx="1248.25" cy="1268.25" r="9.15" fill="#58A0FA"/>
<circle cx="1238" cy="1321.75" r="9.15" fill="#58A0FA"/>
<circle cx="1258.75" cy="1330.75" r="9.15" fill="#58A0FA"/>
<circle cx="1248.25" cy="1355.75" r="9.15" fill="#58A0FA"/>
<circle cx="1299.5" cy="1346.5" r="9.15" fill="#FF8080"/>
<circle cx="1330.75" cy="1362.75" r="9.15" fill="#FF8080"/>
<circle cx="1299.5" cy="1371" r="9.15" fill="#FF8080"/>
<circle cx="1316.25" cy="1372.25" r="9.15" fill="#FF8080"/>
<circle cx="1303.75" cy="1386.5" r="9.15" fill="#FF8080"/>
<circle cx="1322" cy="1366" r="9.15" fill="#FF8080"/>
<line x1="1016.6" y1="1119.9" x2="1016.6" y2="1474.1" stroke="#000000" stroke-width="4.2"/>
<line x1="1006.25" y1="1472" x2="1368.75" y2="1472" stroke="#000000" stroke-width="4.2"/>
<line x1="1006.25" y1="1472" x2="1016.6" y2="1472" stroke="#000000" stroke-width="4.2"/>
<text x="0" y="0" font-size="31.5" textLength="64.44" transform="translate(937.3,1483.2) scale(0.9,1)">0.00</text>
<line x1="1006.25" y1="1402" x2="1016.6" y2="1402" stroke="#000000" stroke-width="4.2"/>
<text x="0" y="0" font-size="31.5" textLength="64.44" transform="translate(937.3,1413.2) scale(0.9,1)">0.05</text>
<line x1="1006.25" y1="1332" x2="1016.6" y2="1332" stroke="#000000" stroke-width="4.2"/>
<text x="0" y="0" font-size="31.5" textLength="64.44" transform="translate(937.3,1343.2) scale(0.9,1)">0.10</text>
<line x1="1006.25" y1="1262" x2="1016.6" y2="1262" stroke="#000000" stroke-width="4.2"/>
<text x="0" y="0" font-size="31.5" textLength="64.44" transform="translate(937.3,1273.2) scale(0.9,1)">0.15</text>
<line x1="1006.25" y1="1192" x2="1016.6" y2="1192" stroke="#000000" stroke-width="4.2"/>
<text x="0" y="0" font-size="31.5" textLength="64.44" transform="translate(937.3,1203.2) scale(0.9,1)">0.20</text>
<line x1="1006.25" y1="1122" x2="1016.6" y2="1122" stroke="#000000" stroke-width="4.2"/>
<text x="0" y="0" font-size="31.5" textLength="64.44" transform="translate(937.3,1133.2) scale(0.9,1)">0.25</text>
<line x1="1103.75" y1="1472" x2="1103.75" y2="1482.3" stroke="#000000" stroke-width="4.2"/>
<line x1="1278.75" y1="1472" x2="1278.75" y2="1482.3" stroke="#000000" stroke-width="4.2"/>
<text x="1030" y="1514.5" font-size="29" textLength="156.25">2.8 mM Glu</text>
<text x="1198.75" y="1514.5" font-size="29" textLength="171.75">16.8 mM Glu</text>
<text x="-146" y="0" font-size="32" textLength="292" transform="translate(918.9,1302.5) scale(1.1,1) rotate(-90)">Insulin (ng/µg Pro.)</text>
<circle cx="1045" cy="1152" r="9.15" fill="#58A0FA"/>
<circle cx="1045" cy="1188.25" r="9.15" fill="#FF8080"/>
<text x="1086.25" y="1161.25" font-size="28" fill="#000000" textLength="37.5">NC</text>
<text x="1086.25" y="1197.5" font-size="28" fill="#000000" textLength="55">HFD</text>
<text x="1231.8" y="1138.75" font-size="29.5" font-style="italic" textLength="107">P=0.010</text>
<path d="M1251.1,1168.75 V1155.1 H1322.6 V1168.75" fill="none" stroke="#000000" stroke-width="4" stroke-linejoin="miter"/>
</g>
<g id="pj">
<text x="1427.5" y="1113.3" font-size="49" fill="#000000">j</text>
<path d="M1585,1470.6 V1443.25 H1628.75 V1470.6" fill="none" stroke="#58A0FA" stroke-width="3.5" stroke-linejoin="miter"/>
<path d="M1649.75,1470.6 V1450.75 H1693.5 V1470.6" fill="none" stroke="#FF8080" stroke-width="3.5" stroke-linejoin="miter"/>
<path d="M1758.1,1470.6 V1218.6 H1801.4 V1470.6" fill="none" stroke="#58A0FA" stroke-width="3.5" stroke-linejoin="miter"/>
<path d="M1822.5,1470.6 V1352.75 H1866 V1470.6" fill="none" stroke="#FF8080" stroke-width="3.5" stroke-linejoin="miter"/>
<line x1="1779.7" y1="1190" x2="1779.7" y2="1246.25" stroke="#58A0FA" stroke-width="3.5"/>
<line x1="1768.9" y1="1190" x2="1790.5" y2="1190" stroke="#58A0FA" stroke-width="3.5"/>
<line x1="1768.9" y1="1246.25" x2="1790.5" y2="1246.25" stroke="#58A0FA" stroke-width="3.5"/>
<line x1="1844.5" y1="1342.75" x2="1844.5" y2="1361.5" stroke="#FF8080" stroke-width="3.5"/>
<line x1="1833.7" y1="1342.75" x2="1855.3" y2="1342.75" stroke="#FF8080" stroke-width="3.5"/>
<line x1="1833.7" y1="1361.5" x2="1855.3" y2="1361.5" stroke="#FF8080" stroke-width="3.5"/>
<circle cx="1596.25" cy="1442.75" r="9" fill="#58A0FA"/>
<circle cx="1617.5" cy="1432.75" r="9" fill="#58A0FA"/>
<circle cx="1601.25" cy="1452.75" r="9" fill="#58A0FA"/>
<circle cx="1612.5" cy="1446.5" r="9" fill="#58A0FA"/>
<circle cx="1661.25" cy="1447.75" r="9" fill="#FF8080"/>
<circle cx="1682.5" cy="1443.5" r="9" fill="#FF8080"/>
<circle cx="1666.25" cy="1455.25" r="9" fill="#FF8080"/>
<circle cx="1677.5" cy="1454" r="9" fill="#FF8080"/>
<circle cx="1779.7" cy="1174" r="9" fill="#58A0FA"/>
<circle cx="1769.4" cy="1193.4" r="9" fill="#58A0FA"/>
<circle cx="1790.2" cy="1205.1" r="9" fill="#58A0FA"/>
<circle cx="1779.7" cy="1301.4" r="9" fill="#58A0FA"/>
<circle cx="1855.75" cy="1332.75" r="9" fill="#FF8080"/>
<circle cx="1833.75" cy="1349" r="9" fill="#FF8080"/>
<circle cx="1843.75" cy="1350.25" r="9" fill="#FF8080"/>
<circle cx="1844.5" cy="1377" r="9" fill="#FF8080"/>
<line x1="1553.9" y1="1122.9" x2="1553.9" y2="1472.7" stroke="#000000" stroke-width="4.2"/>
<line x1="1543.75" y1="1470.6" x2="1901.25" y2="1470.6" stroke="#000000" stroke-width="4.2"/>
<line x1="1543.75" y1="1470.6" x2="1553.9" y2="1470.6" stroke="#000000" stroke-width="4.2"/>
<text x="0" y="0" font-size="31.5" textLength="44.44" transform="translate(1499.3,1481.8) scale(0.9,1)">0.0</text>
<line x1="1543.75" y1="1384.3" x2="1553.9" y2="1384.3" stroke="#000000" stroke-width="4.2"/>
<text x="0" y="0" font-size="31.5" textLength="44.44" transform="translate(1499.3,1395.5) scale(0.9,1)">0.1</text>
<line x1="1543.75" y1="1298" x2="1553.9" y2="1298" stroke="#000000" stroke-width="4.2"/>
<text x="0" y="0" font-size="31.5" textLength="44.44" transform="translate(1499.3,1309.2) scale(0.9,1)">0.2</text>
<line x1="1543.75" y1="1211.7" x2="1553.9" y2="1211.7" stroke="#000000" stroke-width="4.2"/>
<text x="0" y="0" font-size="31.5" textLength="44.44" transform="translate(1499.3,1222.9) scale(0.9,1)">0.3</text>
<line x1="1543.75" y1="1125.4" x2="1553.9" y2="1125.4" stroke="#000000" stroke-width="4.2"/>
<text x="0" y="0" font-size="31.5" textLength="44.44" transform="translate(1499.3,1136.6) scale(0.9,1)">0.4</text>
<line x1="1639.5" y1="1470.6" x2="1639.5" y2="1481" stroke="#000000" stroke-width="4.2"/>
<line x1="1811.25" y1="1470.6" x2="1811.25" y2="1481" stroke="#000000" stroke-width="4.2"/>
<text x="1565.5" y="1514.5" font-size="29" textLength="156.5">2.8 mM Glu</text>
<text x="1732.5" y="1514.5" font-size="29" textLength="171.25">16.8 mM Glu</text>
<text x="-138.5" y="0" font-size="32" textLength="277" transform="translate(1482.3,1296) scale(1.1,1) rotate(-90)">Insulin (ng/µg Pro.)</text>
<circle cx="1576.25" cy="1148" r="9" fill="#58A0FA"/>
<circle cx="1576.25" cy="1188.25" r="9" fill="#FF8080"/>
<text x="1617" y="1160" font-size="26" font-style="italic" textLength="79.25" lengthAdjust="spacingAndGlyphs">db/m</text>
<text x="1617" y="1197" font-size="26" font-style="italic" textLength="73">db/db</text>
<text x="1754.3" y="1128" font-size="29.5" font-style="italic" textLength="107.5">P=0.004</text>
<path d="M1781.4,1155.2 V1141.4 H1850.6 V1155.2" fill="none" stroke="#000000" stroke-width="4" stroke-linejoin="miter"/>
</g>
<g id="imgs">
<svg x="1256" y="20" width="232" height="232.5" viewBox="0 0 232 232.5" overflow="hidden">
<rect x="-2" y="-2" width="236" height="236.5" fill="#000"/>
<use href="#grn_c1"/>
</svg>
<text x="1262.2" y="47.2" font-size="22.6" font-weight="bold" fill="#00B050" textLength="72.8" lengthAdjust="spacingAndGlyphs">CD11c</text>
<rect x="1429" y="239.8" width="54.75" height="2.4" fill="#fff"/>
<svg x="1505.6" y="17.8" width="232.5" height="232.4" viewBox="0 0 232.5 232.4" overflow="hidden">
<rect x="-2" y="-2" width="236.5" height="236.4" fill="#000"/>
<use href="#ins_c2"/>
</svg>
<text x="1524.7" y="48.2" font-size="22.6" font-weight="bold" fill="#CC66FF" textLength="75.8" lengthAdjust="spacingAndGlyphs">Insulin</text>
<rect x="1679" y="238" width="54" height="2.4" fill="#fff"/>
<svg x="1754" y="16" width="232.5" height="232.75" viewBox="0 0 232.5 232.75" overflow="hidden">
<rect x="-2" y="-2" width="236.5" height="236.75" fill="#000"/>
<use href="#ins_c2"/><use href="#grn_c1" transform="translate(2,1)"/>
</svg>
<text x="1758.45" y="45.95" font-size="22.6" font-weight="bold" fill="#00B050" textLength="70.8" lengthAdjust="spacingAndGlyphs">CD11c</text>
<text x="1837.2" y="45.95" font-size="22.6" font-weight="bold" fill="#CC66FF" textLength="75.3" lengthAdjust="spacingAndGlyphs">Insulin</text>
<rect x="1927.5" y="235.6" width="54.5" height="2.4" fill="#fff"/>
<svg x="1255" y="264.5" width="232.5" height="232.5" viewBox="0 0 232.5 232.5" overflow="hidden">
<rect x="-2" y="-2" width="236.5" height="236.5" fill="#000"/>
<use href="#grn_c4"/>
</svg>
<text x="1261.7" y="285.95" font-size="22.6" font-weight="bold" fill="#00B050" textLength="72.55" lengthAdjust="spacingAndGlyphs">CD11c</text>
<rect x="1450.5" y="483.8" width="32.5" height="2.4" fill="#fff"/>
<svg x="1506" y="264.5" width="233" height="232.5" viewBox="0 0 233 232.5" overflow="hidden">
<rect x="-2" y="-2" width="237" height="236.5" fill="#000"/>
<use href="#ins_c5"/>
</svg>
<text x="1511.7" y="282.7" font-size="22.6" font-weight="bold" fill="#CC66FF" textLength="75.8" lengthAdjust="spacingAndGlyphs">Insulin</text>
<rect x="1701.25" y="483.8" width="32.75" height="2.4" fill="#fff"/>
<svg x="1757" y="264" width="232" height="232" viewBox="0 0 232 232" overflow="hidden">
<rect x="-2" y="-2" width="236" height="236" fill="#000"/>
<use href="#ins_c5"/><use href="#grn_c4"/>
</svg>
<text x="1765.2" y="285.2" font-size="22.6" font-weight="bold" fill="#00B050" textLength="70.8" lengthAdjust="spacingAndGlyphs">CD11c</text>
<text x="1840.7" y="285.2" font-size="22.6" font-weight="bold" fill="#CC66FF" textLength="76.8" lengthAdjust="spacingAndGlyphs">Insulin</text>
<rect x="1952" y="483.6" width="32.5" height="2.4" fill="#fff"/>
<svg x="99.25" y="530" width="232" height="232" viewBox="0 0 232 232" overflow="hidden">
<rect x="-2" y="-2" width="236" height="236" fill="#000"/>
<use href="#grn_d1"/>
</svg>
<text x="109.7" y="556.45" font-size="22.6" font-weight="bold" fill="#00B050" textLength="69.55" lengthAdjust="spacingAndGlyphs">CD11c</text>
<rect x="272" y="748.6" width="55" height="2.4" fill="#fff"/>
<svg x="343.5" y="530" width="232.5" height="232" viewBox="0 0 232.5 232" overflow="hidden">
<rect x="-2" y="-2" width="236.5" height="236" fill="#000"/>
<use href="#ins_d2"/>
</svg>
<text x="358.45" y="555.7" font-size="22.6" font-weight="bold" fill="#CC66FF" textLength="73.8" lengthAdjust="spacingAndGlyphs">Insulin</text>
<rect x="517" y="748.6" width="55" height="2.4" fill="#fff"/>
<svg x="585" y="530" width="232.5" height="232" viewBox="0 0 232.5 232" overflow="hidden">
<rect x="-2" y="-2" width="236.5" height="236" fill="#000"/>
<use href="#ins_d2"/><use href="#grn_d1"/>
</svg>
<text x="604.7" y="553.95" font-size="22.6" font-weight="bold" fill="#00B050" textLength="68.8" lengthAdjust="spacingAndGlyphs">CD11c</text>
<text x="685.2" y="553.95" font-size="22.6" font-weight="bold" fill="#CC66FF" textLength="74.05" lengthAdjust="spacingAndGlyphs">Insulin</text>
<rect x="758.25" y="748.6" width="54.75" height="2.4" fill="#fff"/>
<svg x="103.5" y="771" width="232.5" height="232.75" viewBox="0 0 232.5 232.75" overflow="hidden">
<rect x="-2" y="-2" width="236.5" height="236.75" fill="#000"/>
<use href="#grn_d4"/>
</svg>
<text x="110.95" y="797.2" font-size="22.6" font-weight="bold" fill="#00B050" textLength="70.05" lengthAdjust="spacingAndGlyphs">CD11c</text>
<rect x="288.25" y="990.7" width="42.5" height="2.4" fill="#fff"/>
<svg x="343.5" y="771" width="232.5" height="232.75" viewBox="0 0 232.5 232.75" overflow="hidden">
<rect x="-2" y="-2" width="236.5" height="236.75" fill="#000"/>
<use href="#ins_d5"/>
</svg>
<text x="357.7" y="795.2" font-size="22.6" font-weight="bold" fill="#CC66FF" textLength="73.3" lengthAdjust="spacingAndGlyphs">Insulin</text>
<rect x="528.25" y="990.7" width="43.75" height="2.4" fill="#fff"/>
<svg x="585" y="771" width="232.5" height="232.75" viewBox="0 0 232.5 232.75" overflow="hidden">
<rect x="-2" y="-2" width="236.5" height="236.75" fill="#000"/>
<use href="#ins_d5"/><use href="#grn_d4"/>
</svg>
<text x="607.2" y="791.45" font-size="22.6" font-weight="bold" fill="#00B050" textLength="69.55" lengthAdjust="spacingAndGlyphs">CD11c</text>
<text x="675.95" y="791.45" font-size="22.6" font-weight="bold" fill="#CC66FF" textLength="74.55" lengthAdjust="spacingAndGlyphs">Insulin</text>
<rect x="769.5" y="990.7" width="43.5" height="2.4" fill="#fff"/>
<text x="1181.3" y="42.8" font-size="50.5" fill="#000000">c</text>
<text x="2.5" y="545.5" font-size="49" fill="#000000">d</text>
<text x="1185.5" y="158.9" font-size="31" fill="#000000" textLength="48.5" lengthAdjust="spacingAndGlyphs">NC</text>
<text x="1176.3" y="386.4" font-size="31" fill="#000000" textLength="71.5" lengthAdjust="spacingAndGlyphs">HFD</text>
<text x="4.2" y="647.2" font-size="33" font-style="italic" fill="#000000" textLength="83.5" font-family="'DejaVu Sans', 'Liberation Sans', sans-serif">db/m</text>
<text x="0.3" y="861.7" font-size="33" font-style="italic" fill="#000000" textLength="91.5" font-family="'DejaVu Sans', 'Liberation Sans', sans-serif">db/db</text>
</g>
</g>
</svg>
</body></html>
